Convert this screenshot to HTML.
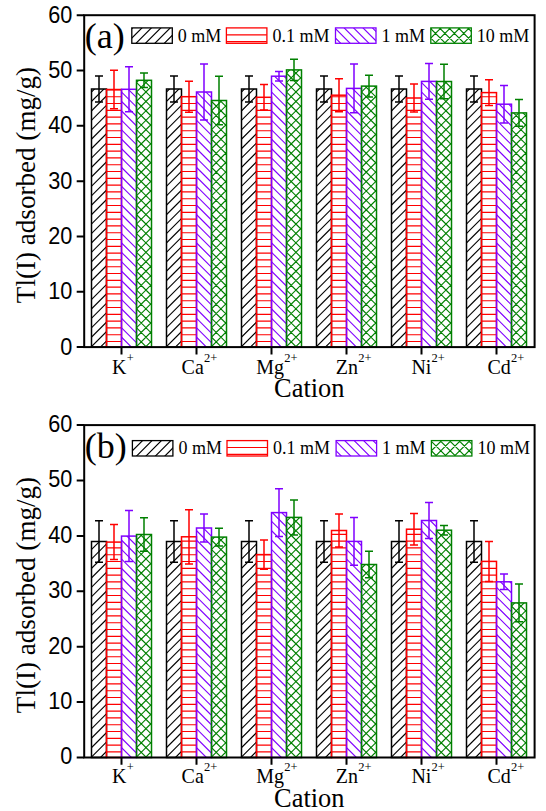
<!DOCTYPE html><html><head><meta charset="utf-8"><style>html,body{margin:0;padding:0;background:#fff;width:546px;height:811px;overflow:hidden}svg{display:block}text{font-family:"Liberation Sans",sans-serif;fill:#000}.s{font-family:"Liberation Serif",serif}</style></head><body>
<svg width="546" height="811" viewBox="0 0 546 811"><defs><clipPath id="c0"><rect x="91.50" y="89.00" width="15.00" height="258.10"/></clipPath><clipPath id="c1"><rect x="106.50" y="89.50" width="15.00" height="257.60"/></clipPath><clipPath id="c2"><rect x="121.50" y="89.30" width="15.00" height="257.80"/></clipPath><clipPath id="c3"><rect x="136.50" y="80.30" width="15.00" height="266.80"/></clipPath><clipPath id="c4"><rect x="166.50" y="89.00" width="15.00" height="258.10"/></clipPath><clipPath id="c5"><rect x="181.50" y="96.70" width="15.00" height="250.40"/></clipPath><clipPath id="c6"><rect x="196.50" y="92.00" width="15.00" height="255.10"/></clipPath><clipPath id="c7"><rect x="211.50" y="100.50" width="15.00" height="246.60"/></clipPath><clipPath id="c8"><rect x="241.50" y="89.00" width="15.00" height="258.10"/></clipPath><clipPath id="c9"><rect x="256.50" y="97.30" width="15.00" height="249.80"/></clipPath><clipPath id="c10"><rect x="271.50" y="76.20" width="15.00" height="270.90"/></clipPath><clipPath id="c11"><rect x="286.50" y="69.90" width="15.00" height="277.20"/></clipPath><clipPath id="c12"><rect x="316.50" y="89.00" width="15.00" height="258.10"/></clipPath><clipPath id="c13"><rect x="331.50" y="95.20" width="15.00" height="251.90"/></clipPath><clipPath id="c14"><rect x="346.50" y="88.40" width="15.00" height="258.70"/></clipPath><clipPath id="c15"><rect x="361.50" y="86.10" width="15.00" height="261.00"/></clipPath><clipPath id="c16"><rect x="391.50" y="89.00" width="15.00" height="258.10"/></clipPath><clipPath id="c17"><rect x="406.50" y="98.00" width="15.00" height="249.10"/></clipPath><clipPath id="c18"><rect x="421.50" y="81.40" width="15.00" height="265.70"/></clipPath><clipPath id="c19"><rect x="436.50" y="81.50" width="15.00" height="265.60"/></clipPath><clipPath id="c20"><rect x="466.50" y="89.00" width="15.00" height="258.10"/></clipPath><clipPath id="c21"><rect x="481.50" y="92.60" width="15.00" height="254.50"/></clipPath><clipPath id="c22"><rect x="496.50" y="104.20" width="15.00" height="242.90"/></clipPath><clipPath id="c23"><rect x="511.50" y="112.90" width="15.00" height="234.20"/></clipPath><clipPath id="c24"><rect x="131.80" y="27.90" width="40.50" height="15.40"/></clipPath><clipPath id="c25"><rect x="226.40" y="27.90" width="40.50" height="15.40"/></clipPath><clipPath id="c26"><rect x="335.50" y="27.90" width="40.50" height="15.40"/></clipPath><clipPath id="c27"><rect x="430.80" y="27.90" width="40.50" height="15.40"/></clipPath><clipPath id="c28"><rect x="91.50" y="541.50" width="15.00" height="216.00"/></clipPath><clipPath id="c29"><rect x="106.50" y="542.10" width="15.00" height="215.40"/></clipPath><clipPath id="c30"><rect x="121.50" y="536.10" width="15.00" height="221.40"/></clipPath><clipPath id="c31"><rect x="136.50" y="534.50" width="15.00" height="223.00"/></clipPath><clipPath id="c32"><rect x="166.50" y="541.50" width="15.00" height="216.00"/></clipPath><clipPath id="c33"><rect x="181.50" y="536.80" width="15.00" height="220.70"/></clipPath><clipPath id="c34"><rect x="196.50" y="528.00" width="15.00" height="229.50"/></clipPath><clipPath id="c35"><rect x="211.50" y="537.10" width="15.00" height="220.40"/></clipPath><clipPath id="c36"><rect x="241.50" y="541.50" width="15.00" height="216.00"/></clipPath><clipPath id="c37"><rect x="256.50" y="554.60" width="15.00" height="202.90"/></clipPath><clipPath id="c38"><rect x="271.50" y="512.60" width="15.00" height="244.90"/></clipPath><clipPath id="c39"><rect x="286.50" y="517.40" width="15.00" height="240.10"/></clipPath><clipPath id="c40"><rect x="316.50" y="541.50" width="15.00" height="216.00"/></clipPath><clipPath id="c41"><rect x="331.50" y="530.50" width="15.00" height="227.00"/></clipPath><clipPath id="c42"><rect x="346.50" y="541.40" width="15.00" height="216.10"/></clipPath><clipPath id="c43"><rect x="361.50" y="564.50" width="15.00" height="193.00"/></clipPath><clipPath id="c44"><rect x="391.50" y="541.50" width="15.00" height="216.00"/></clipPath><clipPath id="c45"><rect x="406.50" y="529.20" width="15.00" height="228.30"/></clipPath><clipPath id="c46"><rect x="421.50" y="520.50" width="15.00" height="237.00"/></clipPath><clipPath id="c47"><rect x="436.50" y="530.20" width="15.00" height="227.30"/></clipPath><clipPath id="c48"><rect x="466.50" y="541.50" width="15.00" height="216.00"/></clipPath><clipPath id="c49"><rect x="481.50" y="561.40" width="15.00" height="196.10"/></clipPath><clipPath id="c50"><rect x="496.50" y="581.80" width="15.00" height="175.70"/></clipPath><clipPath id="c51"><rect x="511.50" y="602.90" width="15.00" height="154.60"/></clipPath><clipPath id="c52"><rect x="132.40" y="440.60" width="40.50" height="15.40"/></clipPath><clipPath id="c53"><rect x="227.00" y="440.60" width="40.50" height="15.40"/></clipPath><clipPath id="c54"><rect x="336.10" y="440.60" width="40.50" height="15.40"/></clipPath><clipPath id="c55"><rect x="431.40" y="440.60" width="40.50" height="15.40"/></clipPath></defs>
<path clip-path="url(#c0)" d="M99.29 367.10L397.39 69.00M89.86 367.10L387.96 69.00M80.43 367.10L378.53 69.00M71.00 367.10L369.10 69.00M61.57 367.10L359.67 69.00M52.14 367.10L350.24 69.00M42.71 367.10L340.81 69.00M33.28 367.10L331.38 69.00M23.85 367.10L321.95 69.00M14.42 367.10L312.52 69.00M4.99 367.10L303.09 69.00M-4.44 367.10L293.66 69.00M-13.87 367.10L284.23 69.00M-23.30 367.10L274.80 69.00M-32.73 367.10L265.37 69.00M-42.16 367.10L255.94 69.00M-51.59 367.10L246.51 69.00M-61.02 367.10L237.08 69.00M-70.45 367.10L227.65 69.00M-79.88 367.10L218.22 69.00M-89.31 367.10L208.79 69.00M-98.74 367.10L199.36 69.00M-108.17 367.10L189.93 69.00M-117.60 367.10L180.50 69.00M-127.03 367.10L171.07 69.00M-136.46 367.10L161.64 69.00M-145.89 367.10L152.21 69.00M-155.32 367.10L142.78 69.00M-164.75 367.10L133.35 69.00M-174.18 367.10L123.92 69.00M-183.61 367.10L114.49 69.00M-193.04 367.10L105.06 69.00M-202.47 367.10L95.63 69.00" stroke="#000000" stroke-width="1.15" fill="none"/>
<rect x="91.50" y="89.00" width="15.00" height="258.10" fill="none" stroke="#000000" stroke-width="1.5"/>
<path d="M99.00 75.90V102.10M95.00 75.90H103.00M95.00 102.10H103.00" stroke="#000000" stroke-width="1.5" fill="none"/>
<path clip-path="url(#c1)" d="M106.50 341.50H121.50M106.50 334.70H121.50M106.50 327.90H121.50M106.50 321.10H121.50M106.50 314.30H121.50M106.50 307.50H121.50M106.50 300.70H121.50M106.50 293.90H121.50M106.50 287.10H121.50M106.50 280.30H121.50M106.50 273.50H121.50M106.50 266.70H121.50M106.50 259.90H121.50M106.50 253.10H121.50M106.50 246.30H121.50M106.50 239.50H121.50M106.50 232.70H121.50M106.50 225.90H121.50M106.50 219.10H121.50M106.50 212.30H121.50M106.50 205.50H121.50M106.50 198.70H121.50M106.50 191.90H121.50M106.50 185.10H121.50M106.50 178.30H121.50M106.50 171.50H121.50M106.50 164.70H121.50M106.50 157.90H121.50M106.50 151.10H121.50M106.50 144.30H121.50M106.50 137.50H121.50M106.50 130.70H121.50M106.50 123.90H121.50M106.50 117.10H121.50M106.50 110.30H121.50M106.50 103.50H121.50M106.50 96.70H121.50M106.50 89.90H121.50" stroke="#ff0000" stroke-width="1.15" fill="none"/>
<rect x="106.50" y="89.50" width="15.00" height="257.60" fill="none" stroke="#ff0000" stroke-width="1.5"/>
<path d="M114.00 70.30V108.70M110.00 70.30H118.00M110.00 108.70H118.00" stroke="#ff0000" stroke-width="1.5" fill="none"/>
<path clip-path="url(#c2)" d="M434.33 367.10L136.53 69.30M424.90 367.10L127.10 69.30M415.47 367.10L117.67 69.30M406.04 367.10L108.24 69.30M396.61 367.10L98.81 69.30M387.18 367.10L89.38 69.30M377.75 367.10L79.95 69.30M368.32 367.10L70.52 69.30M358.89 367.10L61.09 69.30M349.46 367.10L51.66 69.30M340.03 367.10L42.23 69.30M330.60 367.10L32.80 69.30M321.17 367.10L23.37 69.30M311.74 367.10L13.94 69.30M302.31 367.10L4.51 69.30M292.88 367.10L-4.92 69.30M283.45 367.10L-14.35 69.30M274.02 367.10L-23.78 69.30M264.59 367.10L-33.21 69.30M255.16 367.10L-42.64 69.30M245.73 367.10L-52.07 69.30M236.30 367.10L-61.50 69.30M226.87 367.10L-70.93 69.30M217.44 367.10L-80.36 69.30M208.01 367.10L-89.79 69.30M198.58 367.10L-99.22 69.30M189.15 367.10L-108.65 69.30M179.72 367.10L-118.08 69.30M170.29 367.10L-127.51 69.30M160.86 367.10L-136.94 69.30M151.43 367.10L-146.37 69.30M142.00 367.10L-155.80 69.30M132.57 367.10L-165.23 69.30M123.14 367.10L-174.66 69.30" stroke="#8000ff" stroke-width="1.15" fill="none"/>
<rect x="121.50" y="89.30" width="15.00" height="257.80" fill="none" stroke="#8000ff" stroke-width="1.5"/>
<path d="M129.00 66.80V111.80M125.00 66.80H133.00M125.00 111.80H133.00" stroke="#8000ff" stroke-width="1.5" fill="none"/>
<path clip-path="url(#c3)" d="M144.29 367.10L451.09 60.30M134.86 367.10L441.66 60.30M125.43 367.10L432.23 60.30M116.00 367.10L422.80 60.30M106.57 367.10L413.37 60.30M97.14 367.10L403.94 60.30M87.71 367.10L394.51 60.30M78.28 367.10L385.08 60.30M68.85 367.10L375.65 60.30M59.42 367.10L366.22 60.30M49.99 367.10L356.79 60.30M40.56 367.10L347.36 60.30M31.13 367.10L337.93 60.30M21.70 367.10L328.50 60.30M12.27 367.10L319.07 60.30M2.84 367.10L309.64 60.30M-6.59 367.10L300.21 60.30M-16.02 367.10L290.78 60.30M-25.45 367.10L281.35 60.30M-34.88 367.10L271.92 60.30M-44.31 367.10L262.49 60.30M-53.74 367.10L253.06 60.30M-63.17 367.10L243.63 60.30M-72.60 367.10L234.20 60.30M-82.03 367.10L224.77 60.30M-91.46 367.10L215.34 60.30M-100.89 367.10L205.91 60.30M-110.32 367.10L196.48 60.30M-119.75 367.10L187.05 60.30M-129.18 367.10L177.62 60.30M-138.61 367.10L168.19 60.30M-148.04 367.10L158.76 60.30M-157.47 367.10L149.33 60.30M-166.90 367.10L139.90 60.30M458.76 367.10L151.96 60.30M449.33 367.10L142.53 60.30M439.90 367.10L133.10 60.30M430.47 367.10L123.67 60.30M421.04 367.10L114.24 60.30M411.61 367.10L104.81 60.30M402.18 367.10L95.38 60.30M392.75 367.10L85.95 60.30M383.32 367.10L76.52 60.30M373.89 367.10L67.09 60.30M364.46 367.10L57.66 60.30M355.03 367.10L48.23 60.30M345.60 367.10L38.80 60.30M336.17 367.10L29.37 60.30M326.74 367.10L19.94 60.30M317.31 367.10L10.51 60.30M307.88 367.10L1.08 60.30M298.45 367.10L-8.35 60.30M289.02 367.10L-17.78 60.30M279.59 367.10L-27.21 60.30M270.16 367.10L-36.64 60.30M260.73 367.10L-46.07 60.30M251.30 367.10L-55.50 60.30M241.87 367.10L-64.93 60.30M232.44 367.10L-74.36 60.30M223.01 367.10L-83.79 60.30M213.58 367.10L-93.22 60.30M204.15 367.10L-102.65 60.30M194.72 367.10L-112.08 60.30M185.29 367.10L-121.51 60.30M175.86 367.10L-130.94 60.30M166.43 367.10L-140.37 60.30M157.00 367.10L-149.80 60.30M147.57 367.10L-159.23 60.30M138.14 367.10L-168.66 60.30" stroke="#008000" stroke-width="1.15" fill="none"/>
<rect x="136.50" y="80.30" width="15.00" height="266.80" fill="none" stroke="#008000" stroke-width="1.5"/>
<path d="M144.00 73.10V87.50M140.00 73.10H148.00M140.00 87.50H148.00" stroke="#008000" stroke-width="1.5" fill="none"/>
<path clip-path="url(#c4)" d="M174.29 367.10L472.39 69.00M164.86 367.10L462.96 69.00M155.43 367.10L453.53 69.00M146.00 367.10L444.10 69.00M136.57 367.10L434.67 69.00M127.14 367.10L425.24 69.00M117.71 367.10L415.81 69.00M108.28 367.10L406.38 69.00M98.85 367.10L396.95 69.00M89.42 367.10L387.52 69.00M79.99 367.10L378.09 69.00M70.56 367.10L368.66 69.00M61.13 367.10L359.23 69.00M51.70 367.10L349.80 69.00M42.27 367.10L340.37 69.00M32.84 367.10L330.94 69.00M23.41 367.10L321.51 69.00M13.98 367.10L312.08 69.00M4.55 367.10L302.65 69.00M-4.88 367.10L293.22 69.00M-14.31 367.10L283.79 69.00M-23.74 367.10L274.36 69.00M-33.17 367.10L264.93 69.00M-42.60 367.10L255.50 69.00M-52.03 367.10L246.07 69.00M-61.46 367.10L236.64 69.00M-70.89 367.10L227.21 69.00M-80.32 367.10L217.78 69.00M-89.75 367.10L208.35 69.00M-99.18 367.10L198.92 69.00M-108.61 367.10L189.49 69.00M-118.04 367.10L180.06 69.00M-127.47 367.10L170.63 69.00" stroke="#000000" stroke-width="1.15" fill="none"/>
<rect x="166.50" y="89.00" width="15.00" height="258.10" fill="none" stroke="#000000" stroke-width="1.5"/>
<path d="M174.00 75.90V102.10M170.00 75.90H178.00M170.00 102.10H178.00" stroke="#000000" stroke-width="1.5" fill="none"/>
<path clip-path="url(#c5)" d="M181.50 341.50H196.50M181.50 334.70H196.50M181.50 327.90H196.50M181.50 321.10H196.50M181.50 314.30H196.50M181.50 307.50H196.50M181.50 300.70H196.50M181.50 293.90H196.50M181.50 287.10H196.50M181.50 280.30H196.50M181.50 273.50H196.50M181.50 266.70H196.50M181.50 259.90H196.50M181.50 253.10H196.50M181.50 246.30H196.50M181.50 239.50H196.50M181.50 232.70H196.50M181.50 225.90H196.50M181.50 219.10H196.50M181.50 212.30H196.50M181.50 205.50H196.50M181.50 198.70H196.50M181.50 191.90H196.50M181.50 185.10H196.50M181.50 178.30H196.50M181.50 171.50H196.50M181.50 164.70H196.50M181.50 157.90H196.50M181.50 151.10H196.50M181.50 144.30H196.50M181.50 137.50H196.50M181.50 130.70H196.50M181.50 123.90H196.50M181.50 117.10H196.50M181.50 110.30H196.50M181.50 103.50H196.50" stroke="#ff0000" stroke-width="1.15" fill="none"/>
<rect x="181.50" y="96.70" width="15.00" height="250.40" fill="none" stroke="#ff0000" stroke-width="1.5"/>
<path d="M189.00 81.20V112.20M185.00 81.20H193.00M185.00 112.20H193.00" stroke="#ff0000" stroke-width="1.5" fill="none"/>
<path clip-path="url(#c6)" d="M499.90 367.10L204.80 72.00M490.47 367.10L195.37 72.00M481.04 367.10L185.94 72.00M471.61 367.10L176.51 72.00M462.18 367.10L167.08 72.00M452.75 367.10L157.65 72.00M443.32 367.10L148.22 72.00M433.89 367.10L138.79 72.00M424.46 367.10L129.36 72.00M415.03 367.10L119.93 72.00M405.60 367.10L110.50 72.00M396.17 367.10L101.07 72.00M386.74 367.10L91.64 72.00M377.31 367.10L82.21 72.00M367.88 367.10L72.78 72.00M358.45 367.10L63.35 72.00M349.02 367.10L53.92 72.00M339.59 367.10L44.49 72.00M330.16 367.10L35.06 72.00M320.73 367.10L25.63 72.00M311.30 367.10L16.20 72.00M301.87 367.10L6.77 72.00M292.44 367.10L-2.66 72.00M283.01 367.10L-12.09 72.00M273.58 367.10L-21.52 72.00M264.15 367.10L-30.95 72.00M254.72 367.10L-40.38 72.00M245.29 367.10L-49.81 72.00M235.86 367.10L-59.24 72.00M226.43 367.10L-68.67 72.00M217.00 367.10L-78.10 72.00M207.57 367.10L-87.53 72.00M198.14 367.10L-96.96 72.00" stroke="#8000ff" stroke-width="1.15" fill="none"/>
<rect x="196.50" y="92.00" width="15.00" height="255.10" fill="none" stroke="#8000ff" stroke-width="1.5"/>
<path d="M204.00 64.00V120.00M200.00 64.00H208.00M200.00 120.00H208.00" stroke="#8000ff" stroke-width="1.5" fill="none"/>
<path clip-path="url(#c7)" d="M219.29 367.10L505.89 80.50M209.86 367.10L496.46 80.50M200.43 367.10L487.03 80.50M191.00 367.10L477.60 80.50M181.57 367.10L468.17 80.50M172.14 367.10L458.74 80.50M162.71 367.10L449.31 80.50M153.28 367.10L439.88 80.50M143.85 367.10L430.45 80.50M134.42 367.10L421.02 80.50M124.99 367.10L411.59 80.50M115.56 367.10L402.16 80.50M106.13 367.10L392.73 80.50M96.70 367.10L383.30 80.50M87.27 367.10L373.87 80.50M77.84 367.10L364.44 80.50M68.41 367.10L355.01 80.50M58.98 367.10L345.58 80.50M49.55 367.10L336.15 80.50M40.12 367.10L326.72 80.50M30.69 367.10L317.29 80.50M21.26 367.10L307.86 80.50M11.83 367.10L298.43 80.50M2.40 367.10L289.00 80.50M-7.03 367.10L279.57 80.50M-16.46 367.10L270.14 80.50M-25.89 367.10L260.71 80.50M-35.32 367.10L251.28 80.50M-44.75 367.10L241.85 80.50M-54.18 367.10L232.42 80.50M-63.61 367.10L222.99 80.50M-73.04 367.10L213.56 80.50M505.47 367.10L218.87 80.50M496.04 367.10L209.44 80.50M486.61 367.10L200.01 80.50M477.18 367.10L190.58 80.50M467.75 367.10L181.15 80.50M458.32 367.10L171.72 80.50M448.89 367.10L162.29 80.50M439.46 367.10L152.86 80.50M430.03 367.10L143.43 80.50M420.60 367.10L134.00 80.50M411.17 367.10L124.57 80.50M401.74 367.10L115.14 80.50M392.31 367.10L105.71 80.50M382.88 367.10L96.28 80.50M373.45 367.10L86.85 80.50M364.02 367.10L77.42 80.50M354.59 367.10L67.99 80.50M345.16 367.10L58.56 80.50M335.73 367.10L49.13 80.50M326.30 367.10L39.70 80.50M316.87 367.10L30.27 80.50M307.44 367.10L20.84 80.50M298.01 367.10L11.41 80.50M288.58 367.10L1.98 80.50M279.15 367.10L-7.45 80.50M269.72 367.10L-16.88 80.50M260.29 367.10L-26.31 80.50M250.86 367.10L-35.74 80.50M241.43 367.10L-45.17 80.50M232.00 367.10L-54.60 80.50M222.57 367.10L-64.03 80.50M213.14 367.10L-73.46 80.50" stroke="#008000" stroke-width="1.15" fill="none"/>
<rect x="211.50" y="100.50" width="15.00" height="246.60" fill="none" stroke="#008000" stroke-width="1.5"/>
<path d="M219.00 76.20V124.80M215.00 76.20H223.00M215.00 124.80H223.00" stroke="#008000" stroke-width="1.5" fill="none"/>
<path clip-path="url(#c8)" d="M249.29 367.10L547.39 69.00M239.86 367.10L537.96 69.00M230.43 367.10L528.53 69.00M221.00 367.10L519.10 69.00M211.57 367.10L509.67 69.00M202.14 367.10L500.24 69.00M192.71 367.10L490.81 69.00M183.28 367.10L481.38 69.00M173.85 367.10L471.95 69.00M164.42 367.10L462.52 69.00M154.99 367.10L453.09 69.00M145.56 367.10L443.66 69.00M136.13 367.10L434.23 69.00M126.70 367.10L424.80 69.00M117.27 367.10L415.37 69.00M107.84 367.10L405.94 69.00M98.41 367.10L396.51 69.00M88.98 367.10L387.08 69.00M79.55 367.10L377.65 69.00M70.12 367.10L368.22 69.00M60.69 367.10L358.79 69.00M51.26 367.10L349.36 69.00M41.83 367.10L339.93 69.00M32.40 367.10L330.50 69.00M22.97 367.10L321.07 69.00M13.54 367.10L311.64 69.00M4.11 367.10L302.21 69.00M-5.32 367.10L292.78 69.00M-14.75 367.10L283.35 69.00M-24.18 367.10L273.92 69.00M-33.61 367.10L264.49 69.00M-43.04 367.10L255.06 69.00M-52.47 367.10L245.63 69.00" stroke="#000000" stroke-width="1.15" fill="none"/>
<rect x="241.50" y="89.00" width="15.00" height="258.10" fill="none" stroke="#000000" stroke-width="1.5"/>
<path d="M249.00 75.90V102.10M245.00 75.90H253.00M245.00 102.10H253.00" stroke="#000000" stroke-width="1.5" fill="none"/>
<path clip-path="url(#c9)" d="M256.50 341.50H271.50M256.50 334.70H271.50M256.50 327.90H271.50M256.50 321.10H271.50M256.50 314.30H271.50M256.50 307.50H271.50M256.50 300.70H271.50M256.50 293.90H271.50M256.50 287.10H271.50M256.50 280.30H271.50M256.50 273.50H271.50M256.50 266.70H271.50M256.50 259.90H271.50M256.50 253.10H271.50M256.50 246.30H271.50M256.50 239.50H271.50M256.50 232.70H271.50M256.50 225.90H271.50M256.50 219.10H271.50M256.50 212.30H271.50M256.50 205.50H271.50M256.50 198.70H271.50M256.50 191.90H271.50M256.50 185.10H271.50M256.50 178.30H271.50M256.50 171.50H271.50M256.50 164.70H271.50M256.50 157.90H271.50M256.50 151.10H271.50M256.50 144.30H271.50M256.50 137.50H271.50M256.50 130.70H271.50M256.50 123.90H271.50M256.50 117.10H271.50M256.50 110.30H271.50M256.50 103.50H271.50" stroke="#ff0000" stroke-width="1.15" fill="none"/>
<rect x="256.50" y="97.30" width="15.00" height="249.80" fill="none" stroke="#ff0000" stroke-width="1.5"/>
<path d="M264.00 84.60V110.00M260.00 84.60H268.00M260.00 110.00H268.00" stroke="#ff0000" stroke-width="1.5" fill="none"/>
<path clip-path="url(#c10)" d="M593.76 367.10L282.86 56.20M584.33 367.10L273.43 56.20M574.90 367.10L264.00 56.20M565.47 367.10L254.57 56.20M556.04 367.10L245.14 56.20M546.61 367.10L235.71 56.20M537.18 367.10L226.28 56.20M527.75 367.10L216.85 56.20M518.32 367.10L207.42 56.20M508.89 367.10L197.99 56.20M499.46 367.10L188.56 56.20M490.03 367.10L179.13 56.20M480.60 367.10L169.70 56.20M471.17 367.10L160.27 56.20M461.74 367.10L150.84 56.20M452.31 367.10L141.41 56.20M442.88 367.10L131.98 56.20M433.45 367.10L122.55 56.20M424.02 367.10L113.12 56.20M414.59 367.10L103.69 56.20M405.16 367.10L94.26 56.20M395.73 367.10L84.83 56.20M386.30 367.10L75.40 56.20M376.87 367.10L65.97 56.20M367.44 367.10L56.54 56.20M358.01 367.10L47.11 56.20M348.58 367.10L37.68 56.20M339.15 367.10L28.25 56.20M329.72 367.10L18.82 56.20M320.29 367.10L9.39 56.20M310.86 367.10L-0.04 56.20M301.43 367.10L-9.47 56.20M292.00 367.10L-18.90 56.20M282.57 367.10L-28.33 56.20M273.14 367.10L-37.76 56.20" stroke="#8000ff" stroke-width="1.15" fill="none"/>
<rect x="271.50" y="76.20" width="15.00" height="270.90" fill="none" stroke="#8000ff" stroke-width="1.5"/>
<path d="M279.00 71.40V81.00M275.00 71.40H283.00M275.00 81.00H283.00" stroke="#8000ff" stroke-width="1.5" fill="none"/>
<path clip-path="url(#c11)" d="M294.29 367.10L611.49 49.90M284.86 367.10L602.06 49.90M275.43 367.10L592.63 49.90M266.00 367.10L583.20 49.90M256.57 367.10L573.77 49.90M247.14 367.10L564.34 49.90M237.71 367.10L554.91 49.90M228.28 367.10L545.48 49.90M218.85 367.10L536.05 49.90M209.42 367.10L526.62 49.90M199.99 367.10L517.19 49.90M190.56 367.10L507.76 49.90M181.13 367.10L498.33 49.90M171.70 367.10L488.90 49.90M162.27 367.10L479.47 49.90M152.84 367.10L470.04 49.90M143.41 367.10L460.61 49.90M133.98 367.10L451.18 49.90M124.55 367.10L441.75 49.90M115.12 367.10L432.32 49.90M105.69 367.10L422.89 49.90M96.26 367.10L413.46 49.90M86.83 367.10L404.03 49.90M77.40 367.10L394.60 49.90M67.97 367.10L385.17 49.90M58.54 367.10L375.74 49.90M49.11 367.10L366.31 49.90M39.68 367.10L356.88 49.90M30.25 367.10L347.45 49.90M20.82 367.10L338.02 49.90M11.39 367.10L328.59 49.90M1.96 367.10L319.16 49.90M-7.47 367.10L309.73 49.90M-16.90 367.10L300.30 49.90M-26.33 367.10L290.87 49.90M618.19 367.10L300.99 49.90M608.76 367.10L291.56 49.90M599.33 367.10L282.13 49.90M589.90 367.10L272.70 49.90M580.47 367.10L263.27 49.90M571.04 367.10L253.84 49.90M561.61 367.10L244.41 49.90M552.18 367.10L234.98 49.90M542.75 367.10L225.55 49.90M533.32 367.10L216.12 49.90M523.89 367.10L206.69 49.90M514.46 367.10L197.26 49.90M505.03 367.10L187.83 49.90M495.60 367.10L178.40 49.90M486.17 367.10L168.97 49.90M476.74 367.10L159.54 49.90M467.31 367.10L150.11 49.90M457.88 367.10L140.68 49.90M448.45 367.10L131.25 49.90M439.02 367.10L121.82 49.90M429.59 367.10L112.39 49.90M420.16 367.10L102.96 49.90M410.73 367.10L93.53 49.90M401.30 367.10L84.10 49.90M391.87 367.10L74.67 49.90M382.44 367.10L65.24 49.90M373.01 367.10L55.81 49.90M363.58 367.10L46.38 49.90M354.15 367.10L36.95 49.90M344.72 367.10L27.52 49.90M335.29 367.10L18.09 49.90M325.86 367.10L8.66 49.90M316.43 367.10L-0.77 49.90M307.00 367.10L-10.20 49.90M297.57 367.10L-19.63 49.90M288.14 367.10L-29.06 49.90" stroke="#008000" stroke-width="1.15" fill="none"/>
<rect x="286.50" y="69.90" width="15.00" height="277.20" fill="none" stroke="#008000" stroke-width="1.5"/>
<path d="M294.00 59.30V80.50M290.00 59.30H298.00M290.00 80.50H298.00" stroke="#008000" stroke-width="1.5" fill="none"/>
<path clip-path="url(#c12)" d="M324.29 367.10L622.39 69.00M314.86 367.10L612.96 69.00M305.43 367.10L603.53 69.00M296.00 367.10L594.10 69.00M286.57 367.10L584.67 69.00M277.14 367.10L575.24 69.00M267.71 367.10L565.81 69.00M258.28 367.10L556.38 69.00M248.85 367.10L546.95 69.00M239.42 367.10L537.52 69.00M229.99 367.10L528.09 69.00M220.56 367.10L518.66 69.00M211.13 367.10L509.23 69.00M201.70 367.10L499.80 69.00M192.27 367.10L490.37 69.00M182.84 367.10L480.94 69.00M173.41 367.10L471.51 69.00M163.98 367.10L462.08 69.00M154.55 367.10L452.65 69.00M145.12 367.10L443.22 69.00M135.69 367.10L433.79 69.00M126.26 367.10L424.36 69.00M116.83 367.10L414.93 69.00M107.40 367.10L405.50 69.00M97.97 367.10L396.07 69.00M88.54 367.10L386.64 69.00M79.11 367.10L377.21 69.00M69.68 367.10L367.78 69.00M60.25 367.10L358.35 69.00M50.82 367.10L348.92 69.00M41.39 367.10L339.49 69.00M31.96 367.10L330.06 69.00M22.53 367.10L320.63 69.00" stroke="#000000" stroke-width="1.15" fill="none"/>
<rect x="316.50" y="89.00" width="15.00" height="258.10" fill="none" stroke="#000000" stroke-width="1.5"/>
<path d="M324.00 75.90V102.10M320.00 75.90H328.00M320.00 102.10H328.00" stroke="#000000" stroke-width="1.5" fill="none"/>
<path clip-path="url(#c13)" d="M331.50 341.50H346.50M331.50 334.70H346.50M331.50 327.90H346.50M331.50 321.10H346.50M331.50 314.30H346.50M331.50 307.50H346.50M331.50 300.70H346.50M331.50 293.90H346.50M331.50 287.10H346.50M331.50 280.30H346.50M331.50 273.50H346.50M331.50 266.70H346.50M331.50 259.90H346.50M331.50 253.10H346.50M331.50 246.30H346.50M331.50 239.50H346.50M331.50 232.70H346.50M331.50 225.90H346.50M331.50 219.10H346.50M331.50 212.30H346.50M331.50 205.50H346.50M331.50 198.70H346.50M331.50 191.90H346.50M331.50 185.10H346.50M331.50 178.30H346.50M331.50 171.50H346.50M331.50 164.70H346.50M331.50 157.90H346.50M331.50 151.10H346.50M331.50 144.30H346.50M331.50 137.50H346.50M331.50 130.70H346.50M331.50 123.90H346.50M331.50 117.10H346.50M331.50 110.30H346.50M331.50 103.50H346.50M331.50 96.70H346.50" stroke="#ff0000" stroke-width="1.15" fill="none"/>
<rect x="331.50" y="95.20" width="15.00" height="251.90" fill="none" stroke="#ff0000" stroke-width="1.5"/>
<path d="M339.00 78.70V111.70M335.00 78.70H343.00M335.00 111.70H343.00" stroke="#ff0000" stroke-width="1.5" fill="none"/>
<path clip-path="url(#c14)" d="M659.33 367.10L360.63 68.40M649.90 367.10L351.20 68.40M640.47 367.10L341.77 68.40M631.04 367.10L332.34 68.40M621.61 367.10L322.91 68.40M612.18 367.10L313.48 68.40M602.75 367.10L304.05 68.40M593.32 367.10L294.62 68.40M583.89 367.10L285.19 68.40M574.46 367.10L275.76 68.40M565.03 367.10L266.33 68.40M555.60 367.10L256.90 68.40M546.17 367.10L247.47 68.40M536.74 367.10L238.04 68.40M527.31 367.10L228.61 68.40M517.88 367.10L219.18 68.40M508.45 367.10L209.75 68.40M499.02 367.10L200.32 68.40M489.59 367.10L190.89 68.40M480.16 367.10L181.46 68.40M470.73 367.10L172.03 68.40M461.30 367.10L162.60 68.40M451.87 367.10L153.17 68.40M442.44 367.10L143.74 68.40M433.01 367.10L134.31 68.40M423.58 367.10L124.88 68.40M414.15 367.10L115.45 68.40M404.72 367.10L106.02 68.40M395.29 367.10L96.59 68.40M385.86 367.10L87.16 68.40M376.43 367.10L77.73 68.40M367.00 367.10L68.30 68.40M357.57 367.10L58.87 68.40M348.14 367.10L49.44 68.40" stroke="#8000ff" stroke-width="1.15" fill="none"/>
<rect x="346.50" y="88.40" width="15.00" height="258.70" fill="none" stroke="#8000ff" stroke-width="1.5"/>
<path d="M354.00 64.00V112.80M350.00 64.00H358.00M350.00 112.80H358.00" stroke="#8000ff" stroke-width="1.5" fill="none"/>
<path clip-path="url(#c15)" d="M369.29 367.10L670.29 66.10M359.86 367.10L660.86 66.10M350.43 367.10L651.43 66.10M341.00 367.10L642.00 66.10M331.57 367.10L632.57 66.10M322.14 367.10L623.14 66.10M312.71 367.10L613.71 66.10M303.28 367.10L604.28 66.10M293.85 367.10L594.85 66.10M284.42 367.10L585.42 66.10M274.99 367.10L575.99 66.10M265.56 367.10L566.56 66.10M256.13 367.10L557.13 66.10M246.70 367.10L547.70 66.10M237.27 367.10L538.27 66.10M227.84 367.10L528.84 66.10M218.41 367.10L519.41 66.10M208.98 367.10L509.98 66.10M199.55 367.10L500.55 66.10M190.12 367.10L491.12 66.10M180.69 367.10L481.69 66.10M171.26 367.10L472.26 66.10M161.83 367.10L462.83 66.10M152.40 367.10L453.40 66.10M142.97 367.10L443.97 66.10M133.54 367.10L434.54 66.10M124.11 367.10L425.11 66.10M114.68 367.10L415.68 66.10M105.25 367.10L406.25 66.10M95.82 367.10L396.82 66.10M86.39 367.10L387.39 66.10M76.96 367.10L377.96 66.10M67.53 367.10L368.53 66.10M674.33 367.10L373.33 66.10M664.90 367.10L363.90 66.10M655.47 367.10L354.47 66.10M646.04 367.10L345.04 66.10M636.61 367.10L335.61 66.10M627.18 367.10L326.18 66.10M617.75 367.10L316.75 66.10M608.32 367.10L307.32 66.10M598.89 367.10L297.89 66.10M589.46 367.10L288.46 66.10M580.03 367.10L279.03 66.10M570.60 367.10L269.60 66.10M561.17 367.10L260.17 66.10M551.74 367.10L250.74 66.10M542.31 367.10L241.31 66.10M532.88 367.10L231.88 66.10M523.45 367.10L222.45 66.10M514.02 367.10L213.02 66.10M504.59 367.10L203.59 66.10M495.16 367.10L194.16 66.10M485.73 367.10L184.73 66.10M476.30 367.10L175.30 66.10M466.87 367.10L165.87 66.10M457.44 367.10L156.44 66.10M448.01 367.10L147.01 66.10M438.58 367.10L137.58 66.10M429.15 367.10L128.15 66.10M419.72 367.10L118.72 66.10M410.29 367.10L109.29 66.10M400.86 367.10L99.86 66.10M391.43 367.10L90.43 66.10M382.00 367.10L81.00 66.10M372.57 367.10L71.57 66.10M363.14 367.10L62.14 66.10" stroke="#008000" stroke-width="1.15" fill="none"/>
<rect x="361.50" y="86.10" width="15.00" height="261.00" fill="none" stroke="#008000" stroke-width="1.5"/>
<path d="M369.00 75.30V96.90M365.00 75.30H373.00M365.00 96.90H373.00" stroke="#008000" stroke-width="1.5" fill="none"/>
<path clip-path="url(#c16)" d="M399.29 367.10L697.39 69.00M389.86 367.10L687.96 69.00M380.43 367.10L678.53 69.00M371.00 367.10L669.10 69.00M361.57 367.10L659.67 69.00M352.14 367.10L650.24 69.00M342.71 367.10L640.81 69.00M333.28 367.10L631.38 69.00M323.85 367.10L621.95 69.00M314.42 367.10L612.52 69.00M304.99 367.10L603.09 69.00M295.56 367.10L593.66 69.00M286.13 367.10L584.23 69.00M276.70 367.10L574.80 69.00M267.27 367.10L565.37 69.00M257.84 367.10L555.94 69.00M248.41 367.10L546.51 69.00M238.98 367.10L537.08 69.00M229.55 367.10L527.65 69.00M220.12 367.10L518.22 69.00M210.69 367.10L508.79 69.00M201.26 367.10L499.36 69.00M191.83 367.10L489.93 69.00M182.40 367.10L480.50 69.00M172.97 367.10L471.07 69.00M163.54 367.10L461.64 69.00M154.11 367.10L452.21 69.00M144.68 367.10L442.78 69.00M135.25 367.10L433.35 69.00M125.82 367.10L423.92 69.00M116.39 367.10L414.49 69.00M106.96 367.10L405.06 69.00M97.53 367.10L395.63 69.00" stroke="#000000" stroke-width="1.15" fill="none"/>
<rect x="391.50" y="89.00" width="15.00" height="258.10" fill="none" stroke="#000000" stroke-width="1.5"/>
<path d="M399.00 75.90V102.10M395.00 75.90H403.00M395.00 102.10H403.00" stroke="#000000" stroke-width="1.5" fill="none"/>
<path clip-path="url(#c17)" d="M406.50 341.50H421.50M406.50 334.70H421.50M406.50 327.90H421.50M406.50 321.10H421.50M406.50 314.30H421.50M406.50 307.50H421.50M406.50 300.70H421.50M406.50 293.90H421.50M406.50 287.10H421.50M406.50 280.30H421.50M406.50 273.50H421.50M406.50 266.70H421.50M406.50 259.90H421.50M406.50 253.10H421.50M406.50 246.30H421.50M406.50 239.50H421.50M406.50 232.70H421.50M406.50 225.90H421.50M406.50 219.10H421.50M406.50 212.30H421.50M406.50 205.50H421.50M406.50 198.70H421.50M406.50 191.90H421.50M406.50 185.10H421.50M406.50 178.30H421.50M406.50 171.50H421.50M406.50 164.70H421.50M406.50 157.90H421.50M406.50 151.10H421.50M406.50 144.30H421.50M406.50 137.50H421.50M406.50 130.70H421.50M406.50 123.90H421.50M406.50 117.10H421.50M406.50 110.30H421.50M406.50 103.50H421.50" stroke="#ff0000" stroke-width="1.15" fill="none"/>
<rect x="406.50" y="98.00" width="15.00" height="249.10" fill="none" stroke="#ff0000" stroke-width="1.5"/>
<path d="M414.00 83.90V112.10M410.00 83.90H418.00M410.00 112.10H418.00" stroke="#ff0000" stroke-width="1.5" fill="none"/>
<path clip-path="url(#c18)" d="M734.33 367.10L428.63 61.40M724.90 367.10L419.20 61.40M715.47 367.10L409.77 61.40M706.04 367.10L400.34 61.40M696.61 367.10L390.91 61.40M687.18 367.10L381.48 61.40M677.75 367.10L372.05 61.40M668.32 367.10L362.62 61.40M658.89 367.10L353.19 61.40M649.46 367.10L343.76 61.40M640.03 367.10L334.33 61.40M630.60 367.10L324.90 61.40M621.17 367.10L315.47 61.40M611.74 367.10L306.04 61.40M602.31 367.10L296.61 61.40M592.88 367.10L287.18 61.40M583.45 367.10L277.75 61.40M574.02 367.10L268.32 61.40M564.59 367.10L258.89 61.40M555.16 367.10L249.46 61.40M545.73 367.10L240.03 61.40M536.30 367.10L230.60 61.40M526.87 367.10L221.17 61.40M517.44 367.10L211.74 61.40M508.01 367.10L202.31 61.40M498.58 367.10L192.88 61.40M489.15 367.10L183.45 61.40M479.72 367.10L174.02 61.40M470.29 367.10L164.59 61.40M460.86 367.10L155.16 61.40M451.43 367.10L145.73 61.40M442.00 367.10L136.30 61.40M432.57 367.10L126.87 61.40M423.14 367.10L117.44 61.40" stroke="#8000ff" stroke-width="1.15" fill="none"/>
<rect x="421.50" y="81.40" width="15.00" height="265.70" fill="none" stroke="#8000ff" stroke-width="1.5"/>
<path d="M429.00 63.50V99.30M425.00 63.50H433.00M425.00 99.30H433.00" stroke="#8000ff" stroke-width="1.5" fill="none"/>
<path clip-path="url(#c19)" d="M444.29 367.10L749.89 61.50M434.86 367.10L740.46 61.50M425.43 367.10L731.03 61.50M416.00 367.10L721.60 61.50M406.57 367.10L712.17 61.50M397.14 367.10L702.74 61.50M387.71 367.10L693.31 61.50M378.28 367.10L683.88 61.50M368.85 367.10L674.45 61.50M359.42 367.10L665.02 61.50M349.99 367.10L655.59 61.50M340.56 367.10L646.16 61.50M331.13 367.10L636.73 61.50M321.70 367.10L627.30 61.50M312.27 367.10L617.87 61.50M302.84 367.10L608.44 61.50M293.41 367.10L599.01 61.50M283.98 367.10L589.58 61.50M274.55 367.10L580.15 61.50M265.12 367.10L570.72 61.50M255.69 367.10L561.29 61.50M246.26 367.10L551.86 61.50M236.83 367.10L542.43 61.50M227.40 367.10L533.00 61.50M217.97 367.10L523.57 61.50M208.54 367.10L514.14 61.50M199.11 367.10L504.71 61.50M189.68 367.10L495.28 61.50M180.25 367.10L485.85 61.50M170.82 367.10L476.42 61.50M161.39 367.10L466.99 61.50M151.96 367.10L457.56 61.50M142.53 367.10L448.13 61.50M133.10 367.10L438.70 61.50M749.33 367.10L443.73 61.50M739.90 367.10L434.30 61.50M730.47 367.10L424.87 61.50M721.04 367.10L415.44 61.50M711.61 367.10L406.01 61.50M702.18 367.10L396.58 61.50M692.75 367.10L387.15 61.50M683.32 367.10L377.72 61.50M673.89 367.10L368.29 61.50M664.46 367.10L358.86 61.50M655.03 367.10L349.43 61.50M645.60 367.10L340.00 61.50M636.17 367.10L330.57 61.50M626.74 367.10L321.14 61.50M617.31 367.10L311.71 61.50M607.88 367.10L302.28 61.50M598.45 367.10L292.85 61.50M589.02 367.10L283.42 61.50M579.59 367.10L273.99 61.50M570.16 367.10L264.56 61.50M560.73 367.10L255.13 61.50M551.30 367.10L245.70 61.50M541.87 367.10L236.27 61.50M532.44 367.10L226.84 61.50M523.01 367.10L217.41 61.50M513.58 367.10L207.98 61.50M504.15 367.10L198.55 61.50M494.72 367.10L189.12 61.50M485.29 367.10L179.69 61.50M475.86 367.10L170.26 61.50M466.43 367.10L160.83 61.50M457.00 367.10L151.40 61.50M447.57 367.10L141.97 61.50M438.14 367.10L132.54 61.50" stroke="#008000" stroke-width="1.15" fill="none"/>
<rect x="436.50" y="81.50" width="15.00" height="265.60" fill="none" stroke="#008000" stroke-width="1.5"/>
<path d="M444.00 64.30V98.70M440.00 64.30H448.00M440.00 98.70H448.00" stroke="#008000" stroke-width="1.5" fill="none"/>
<path clip-path="url(#c20)" d="M474.29 367.10L772.39 69.00M464.86 367.10L762.96 69.00M455.43 367.10L753.53 69.00M446.00 367.10L744.10 69.00M436.57 367.10L734.67 69.00M427.14 367.10L725.24 69.00M417.71 367.10L715.81 69.00M408.28 367.10L706.38 69.00M398.85 367.10L696.95 69.00M389.42 367.10L687.52 69.00M379.99 367.10L678.09 69.00M370.56 367.10L668.66 69.00M361.13 367.10L659.23 69.00M351.70 367.10L649.80 69.00M342.27 367.10L640.37 69.00M332.84 367.10L630.94 69.00M323.41 367.10L621.51 69.00M313.98 367.10L612.08 69.00M304.55 367.10L602.65 69.00M295.12 367.10L593.22 69.00M285.69 367.10L583.79 69.00M276.26 367.10L574.36 69.00M266.83 367.10L564.93 69.00M257.40 367.10L555.50 69.00M247.97 367.10L546.07 69.00M238.54 367.10L536.64 69.00M229.11 367.10L527.21 69.00M219.68 367.10L517.78 69.00M210.25 367.10L508.35 69.00M200.82 367.10L498.92 69.00M191.39 367.10L489.49 69.00M181.96 367.10L480.06 69.00M172.53 367.10L470.63 69.00" stroke="#000000" stroke-width="1.15" fill="none"/>
<rect x="466.50" y="89.00" width="15.00" height="258.10" fill="none" stroke="#000000" stroke-width="1.5"/>
<path d="M474.00 75.90V102.10M470.00 75.90H478.00M470.00 102.10H478.00" stroke="#000000" stroke-width="1.5" fill="none"/>
<path clip-path="url(#c21)" d="M481.50 341.50H496.50M481.50 334.70H496.50M481.50 327.90H496.50M481.50 321.10H496.50M481.50 314.30H496.50M481.50 307.50H496.50M481.50 300.70H496.50M481.50 293.90H496.50M481.50 287.10H496.50M481.50 280.30H496.50M481.50 273.50H496.50M481.50 266.70H496.50M481.50 259.90H496.50M481.50 253.10H496.50M481.50 246.30H496.50M481.50 239.50H496.50M481.50 232.70H496.50M481.50 225.90H496.50M481.50 219.10H496.50M481.50 212.30H496.50M481.50 205.50H496.50M481.50 198.70H496.50M481.50 191.90H496.50M481.50 185.10H496.50M481.50 178.30H496.50M481.50 171.50H496.50M481.50 164.70H496.50M481.50 157.90H496.50M481.50 151.10H496.50M481.50 144.30H496.50M481.50 137.50H496.50M481.50 130.70H496.50M481.50 123.90H496.50M481.50 117.10H496.50M481.50 110.30H496.50M481.50 103.50H496.50M481.50 96.70H496.50" stroke="#ff0000" stroke-width="1.15" fill="none"/>
<rect x="481.50" y="92.60" width="15.00" height="254.50" fill="none" stroke="#ff0000" stroke-width="1.5"/>
<path d="M489.00 79.70V105.50M485.00 79.70H493.00M485.00 105.50H493.00" stroke="#ff0000" stroke-width="1.5" fill="none"/>
<path clip-path="url(#c22)" d="M790.47 367.10L507.57 84.20M781.04 367.10L498.14 84.20M771.61 367.10L488.71 84.20M762.18 367.10L479.28 84.20M752.75 367.10L469.85 84.20M743.32 367.10L460.42 84.20M733.89 367.10L450.99 84.20M724.46 367.10L441.56 84.20M715.03 367.10L432.13 84.20M705.60 367.10L422.70 84.20M696.17 367.10L413.27 84.20M686.74 367.10L403.84 84.20M677.31 367.10L394.41 84.20M667.88 367.10L384.98 84.20M658.45 367.10L375.55 84.20M649.02 367.10L366.12 84.20M639.59 367.10L356.69 84.20M630.16 367.10L347.26 84.20M620.73 367.10L337.83 84.20M611.30 367.10L328.40 84.20M601.87 367.10L318.97 84.20M592.44 367.10L309.54 84.20M583.01 367.10L300.11 84.20M573.58 367.10L290.68 84.20M564.15 367.10L281.25 84.20M554.72 367.10L271.82 84.20M545.29 367.10L262.39 84.20M535.86 367.10L252.96 84.20M526.43 367.10L243.53 84.20M517.00 367.10L234.10 84.20M507.57 367.10L224.67 84.20M498.14 367.10L215.24 84.20" stroke="#8000ff" stroke-width="1.15" fill="none"/>
<rect x="496.50" y="104.20" width="15.00" height="242.90" fill="none" stroke="#8000ff" stroke-width="1.5"/>
<path d="M504.00 85.50V122.90M500.00 85.50H508.00M500.00 122.90H508.00" stroke="#8000ff" stroke-width="1.5" fill="none"/>
<path clip-path="url(#c23)" d="M519.29 367.10L793.49 92.90M509.86 367.10L784.06 92.90M500.43 367.10L774.63 92.90M491.00 367.10L765.20 92.90M481.57 367.10L755.77 92.90M472.14 367.10L746.34 92.90M462.71 367.10L736.91 92.90M453.28 367.10L727.48 92.90M443.85 367.10L718.05 92.90M434.42 367.10L708.62 92.90M424.99 367.10L699.19 92.90M415.56 367.10L689.76 92.90M406.13 367.10L680.33 92.90M396.70 367.10L670.90 92.90M387.27 367.10L661.47 92.90M377.84 367.10L652.04 92.90M368.41 367.10L642.61 92.90M358.98 367.10L633.18 92.90M349.55 367.10L623.75 92.90M340.12 367.10L614.32 92.90M330.69 367.10L604.89 92.90M321.26 367.10L595.46 92.90M311.83 367.10L586.03 92.90M302.40 367.10L576.60 92.90M292.97 367.10L567.17 92.90M283.54 367.10L557.74 92.90M274.11 367.10L548.31 92.90M264.68 367.10L538.88 92.90M255.25 367.10L529.45 92.90M245.82 367.10L520.02 92.90M236.39 367.10L510.59 92.90M796.04 367.10L521.84 92.90M786.61 367.10L512.41 92.90M777.18 367.10L502.98 92.90M767.75 367.10L493.55 92.90M758.32 367.10L484.12 92.90M748.89 367.10L474.69 92.90M739.46 367.10L465.26 92.90M730.03 367.10L455.83 92.90M720.60 367.10L446.40 92.90M711.17 367.10L436.97 92.90M701.74 367.10L427.54 92.90M692.31 367.10L418.11 92.90M682.88 367.10L408.68 92.90M673.45 367.10L399.25 92.90M664.02 367.10L389.82 92.90M654.59 367.10L380.39 92.90M645.16 367.10L370.96 92.90M635.73 367.10L361.53 92.90M626.30 367.10L352.10 92.90M616.87 367.10L342.67 92.90M607.44 367.10L333.24 92.90M598.01 367.10L323.81 92.90M588.58 367.10L314.38 92.90M579.15 367.10L304.95 92.90M569.72 367.10L295.52 92.90M560.29 367.10L286.09 92.90M550.86 367.10L276.66 92.90M541.43 367.10L267.23 92.90M532.00 367.10L257.80 92.90M522.57 367.10L248.37 92.90M513.14 367.10L238.94 92.90" stroke="#008000" stroke-width="1.15" fill="none"/>
<rect x="511.50" y="112.90" width="15.00" height="234.20" fill="none" stroke="#008000" stroke-width="1.5"/>
<path d="M519.00 99.60V126.20M515.00 99.60H523.00M515.00 126.20H523.00" stroke="#008000" stroke-width="1.5" fill="none"/>
<rect x="84.2" y="15.2" width="450.40" height="331.90" fill="none" stroke="#000" stroke-width="2"/>
<text transform="translate(72.4,354.75) scale(1,1.09)" font-size="21.7" text-anchor="end">0</text>
<text transform="translate(72.4,299.43) scale(1,1.09)" font-size="21.7" text-anchor="end">10</text>
<text transform="translate(72.4,244.12) scale(1,1.09)" font-size="21.7" text-anchor="end">20</text>
<text transform="translate(72.4,188.80) scale(1,1.09)" font-size="21.7" text-anchor="end">30</text>
<text transform="translate(72.4,133.48) scale(1,1.09)" font-size="21.7" text-anchor="end">40</text>
<text transform="translate(72.4,78.17) scale(1,1.09)" font-size="21.7" text-anchor="end">50</text>
<text transform="translate(72.4,22.85) scale(1,1.09)" font-size="21.7" text-anchor="end">60</text>
<text class="s" transform="translate(112.00,373.80) scale(1,1.05)" font-size="20">K<tspan font-size="12.5" dx="0.2" dy="-11.1">+</tspan></text>
<text class="s" transform="translate(181.60,373.80) scale(1,1.05)" font-size="20">Ca<tspan font-size="12.5" dx="0.2" dy="-11.1">2+</tspan></text>
<text class="s" transform="translate(256.20,373.80) scale(1,1.05)" font-size="20">Mg<tspan font-size="12.5" dx="0.2" dy="-11.1">2+</tspan></text>
<text class="s" transform="translate(335.80,373.80) scale(1,1.05)" font-size="20">Zn<tspan font-size="12.5" dx="0.2" dy="-11.1">2+</tspan></text>
<text class="s" transform="translate(411.40,373.80) scale(1,1.05)" font-size="20">Ni<tspan font-size="12.5" dx="0.2" dy="-11.1">2+</tspan></text>
<text class="s" transform="translate(487.40,373.80) scale(1,1.05)" font-size="20">Cd<tspan font-size="12.5" dx="0.2" dy="-11.1">2+</tspan></text>
<path d="M76.70 347.10H84.20M76.70 291.78H84.20M76.70 236.47H84.20M76.70 181.15H84.20M76.70 125.83H84.20M76.70 70.52H84.20M76.70 15.20H84.20M121.50 347.10V354.40M196.50 347.10V354.40M271.50 347.10V354.40M346.50 347.10V354.40M421.50 347.10V354.40M496.50 347.10V354.40" stroke="#000" stroke-width="2" fill="none"/>
<text class="s" transform="translate(309.3,396.50) scale(1,1.07)" font-size="26.4" text-anchor="middle">Cation</text>
<text class="s" transform="translate(34.5,185.0) rotate(-90)" font-size="27.1" text-anchor="middle">Tl(I) adsorbed (mg/g)</text>
<text class="s" x="84.8" y="47.9" font-size="36">(a)</text>
<path clip-path="url(#c24)" d="M172.58 63.30L227.98 7.90M163.15 63.30L218.55 7.90M153.72 63.30L209.12 7.90M144.29 63.30L199.69 7.90M134.86 63.30L190.26 7.90M125.43 63.30L180.83 7.90M116.00 63.30L171.40 7.90M106.57 63.30L161.97 7.90M97.14 63.30L152.54 7.90M87.71 63.30L143.11 7.90M78.28 63.30L133.68 7.90" stroke="#000000" stroke-width="1.15" fill="none"/>
<rect x="131.80" y="27.90" width="40.50" height="15.40" fill="none" stroke="#000000" stroke-width="1.3"/>
<text class="s" x="177.80" y="41.80" font-size="18">0 mM</text>
<path clip-path="url(#c25)" d="M226.40 34.80H266.90M226.40 41.60H266.90" stroke="#ff0000" stroke-width="1.15" fill="none"/>
<rect x="226.40" y="27.90" width="40.50" height="15.40" fill="none" stroke="#ff0000" stroke-width="1.3"/>
<text class="s" x="272.40" y="41.80" font-size="18">0.1 mM</text>
<path clip-path="url(#c26)" d="M426.71 63.30L371.31 7.90M417.28 63.30L361.88 7.90M407.85 63.30L352.45 7.90M398.42 63.30L343.02 7.90M388.99 63.30L333.59 7.90M379.56 63.30L324.16 7.90M370.13 63.30L314.73 7.90M360.70 63.30L305.30 7.90M351.27 63.30L295.87 7.90M341.84 63.30L286.44 7.90" stroke="#8000ff" stroke-width="1.15" fill="none"/>
<rect x="335.50" y="27.90" width="40.50" height="15.40" fill="none" stroke="#8000ff" stroke-width="1.3"/>
<text class="s" x="381.50" y="41.80" font-size="18">1 mM</text>
<path clip-path="url(#c27)" d="M471.58 63.30L526.98 7.90M462.15 63.30L517.55 7.90M452.72 63.30L508.12 7.90M443.29 63.30L498.69 7.90M433.86 63.30L489.26 7.90M424.43 63.30L479.83 7.90M415.00 63.30L470.40 7.90M405.57 63.30L460.97 7.90M396.14 63.30L451.54 7.90M386.71 63.30L442.11 7.90M377.28 63.30L432.68 7.90M522.01 63.30L466.61 7.90M512.58 63.30L457.18 7.90M503.15 63.30L447.75 7.90M493.72 63.30L438.32 7.90M484.29 63.30L428.89 7.90M474.86 63.30L419.46 7.90M465.43 63.30L410.03 7.90M456.00 63.30L400.60 7.90M446.57 63.30L391.17 7.90M437.14 63.30L381.74 7.90" stroke="#008000" stroke-width="1.15" fill="none"/>
<rect x="430.80" y="27.90" width="40.50" height="15.40" fill="none" stroke="#008000" stroke-width="1.3"/>
<text class="s" x="476.80" y="41.80" font-size="18">10 mM</text>
<path clip-path="url(#c28)" d="M99.29 777.50L355.29 521.50M89.86 777.50L345.86 521.50M80.43 777.50L336.43 521.50M71.00 777.50L327.00 521.50M61.57 777.50L317.57 521.50M52.14 777.50L308.14 521.50M42.71 777.50L298.71 521.50M33.28 777.50L289.28 521.50M23.85 777.50L279.85 521.50M14.42 777.50L270.42 521.50M4.99 777.50L260.99 521.50M-4.44 777.50L251.56 521.50M-13.87 777.50L242.13 521.50M-23.30 777.50L232.70 521.50M-32.73 777.50L223.27 521.50M-42.16 777.50L213.84 521.50M-51.59 777.50L204.41 521.50M-61.02 777.50L194.98 521.50M-70.45 777.50L185.55 521.50M-79.88 777.50L176.12 521.50M-89.31 777.50L166.69 521.50M-98.74 777.50L157.26 521.50M-108.17 777.50L147.83 521.50M-117.60 777.50L138.40 521.50M-127.03 777.50L128.97 521.50M-136.46 777.50L119.54 521.50M-145.89 777.50L110.11 521.50M-155.32 777.50L100.68 521.50M-164.75 777.50L91.25 521.50" stroke="#000000" stroke-width="1.15" fill="none"/>
<rect x="91.50" y="541.50" width="15.00" height="216.00" fill="none" stroke="#000000" stroke-width="1.5"/>
<path d="M99.00 520.80V562.20M95.00 520.80H103.00M95.00 562.20H103.00" stroke="#000000" stroke-width="1.5" fill="none"/>
<path clip-path="url(#c29)" d="M106.50 751.90H121.50M106.50 745.10H121.50M106.50 738.30H121.50M106.50 731.50H121.50M106.50 724.70H121.50M106.50 717.90H121.50M106.50 711.10H121.50M106.50 704.30H121.50M106.50 697.50H121.50M106.50 690.70H121.50M106.50 683.90H121.50M106.50 677.10H121.50M106.50 670.30H121.50M106.50 663.50H121.50M106.50 656.70H121.50M106.50 649.90H121.50M106.50 643.10H121.50M106.50 636.30H121.50M106.50 629.50H121.50M106.50 622.70H121.50M106.50 615.90H121.50M106.50 609.10H121.50M106.50 602.30H121.50M106.50 595.50H121.50M106.50 588.70H121.50M106.50 581.90H121.50M106.50 575.10H121.50M106.50 568.30H121.50M106.50 561.50H121.50M106.50 554.70H121.50M106.50 547.90H121.50" stroke="#ff0000" stroke-width="1.15" fill="none"/>
<rect x="106.50" y="542.10" width="15.00" height="215.40" fill="none" stroke="#ff0000" stroke-width="1.5"/>
<path d="M114.00 524.60V559.60M110.00 524.60H118.00M110.00 559.60H118.00" stroke="#ff0000" stroke-width="1.5" fill="none"/>
<path clip-path="url(#c30)" d="M396.61 777.50L135.21 516.10M387.18 777.50L125.78 516.10M377.75 777.50L116.35 516.10M368.32 777.50L106.92 516.10M358.89 777.50L97.49 516.10M349.46 777.50L88.06 516.10M340.03 777.50L78.63 516.10M330.60 777.50L69.20 516.10M321.17 777.50L59.77 516.10M311.74 777.50L50.34 516.10M302.31 777.50L40.91 516.10M292.88 777.50L31.48 516.10M283.45 777.50L22.05 516.10M274.02 777.50L12.62 516.10M264.59 777.50L3.19 516.10M255.16 777.50L-6.24 516.10M245.73 777.50L-15.67 516.10M236.30 777.50L-25.10 516.10M226.87 777.50L-34.53 516.10M217.44 777.50L-43.96 516.10M208.01 777.50L-53.39 516.10M198.58 777.50L-62.82 516.10M189.15 777.50L-72.25 516.10M179.72 777.50L-81.68 516.10M170.29 777.50L-91.11 516.10M160.86 777.50L-100.54 516.10M151.43 777.50L-109.97 516.10M142.00 777.50L-119.40 516.10M132.57 777.50L-128.83 516.10M123.14 777.50L-138.26 516.10" stroke="#8000ff" stroke-width="1.15" fill="none"/>
<rect x="121.50" y="536.10" width="15.00" height="221.40" fill="none" stroke="#8000ff" stroke-width="1.5"/>
<path d="M129.00 510.60V561.60M125.00 510.60H133.00M125.00 561.60H133.00" stroke="#8000ff" stroke-width="1.5" fill="none"/>
<path clip-path="url(#c31)" d="M144.29 777.50L407.29 514.50M134.86 777.50L397.86 514.50M125.43 777.50L388.43 514.50M116.00 777.50L379.00 514.50M106.57 777.50L369.57 514.50M97.14 777.50L360.14 514.50M87.71 777.50L350.71 514.50M78.28 777.50L341.28 514.50M68.85 777.50L331.85 514.50M59.42 777.50L322.42 514.50M49.99 777.50L312.99 514.50M40.56 777.50L303.56 514.50M31.13 777.50L294.13 514.50M21.70 777.50L284.70 514.50M12.27 777.50L275.27 514.50M2.84 777.50L265.84 514.50M-6.59 777.50L256.41 514.50M-16.02 777.50L246.98 514.50M-25.45 777.50L237.55 514.50M-34.88 777.50L228.12 514.50M-44.31 777.50L218.69 514.50M-53.74 777.50L209.26 514.50M-63.17 777.50L199.83 514.50M-72.60 777.50L190.40 514.50M-82.03 777.50L180.97 514.50M-91.46 777.50L171.54 514.50M-100.89 777.50L162.11 514.50M-110.32 777.50L152.68 514.50M-119.75 777.50L143.25 514.50M411.61 777.50L148.61 514.50M402.18 777.50L139.18 514.50M392.75 777.50L129.75 514.50M383.32 777.50L120.32 514.50M373.89 777.50L110.89 514.50M364.46 777.50L101.46 514.50M355.03 777.50L92.03 514.50M345.60 777.50L82.60 514.50M336.17 777.50L73.17 514.50M326.74 777.50L63.74 514.50M317.31 777.50L54.31 514.50M307.88 777.50L44.88 514.50M298.45 777.50L35.45 514.50M289.02 777.50L26.02 514.50M279.59 777.50L16.59 514.50M270.16 777.50L7.16 514.50M260.73 777.50L-2.27 514.50M251.30 777.50L-11.70 514.50M241.87 777.50L-21.13 514.50M232.44 777.50L-30.56 514.50M223.01 777.50L-39.99 514.50M213.58 777.50L-49.42 514.50M204.15 777.50L-58.85 514.50M194.72 777.50L-68.28 514.50M185.29 777.50L-77.71 514.50M175.86 777.50L-87.14 514.50M166.43 777.50L-96.57 514.50M157.00 777.50L-106.00 514.50M147.57 777.50L-115.43 514.50M138.14 777.50L-124.86 514.50" stroke="#008000" stroke-width="1.15" fill="none"/>
<rect x="136.50" y="534.50" width="15.00" height="223.00" fill="none" stroke="#008000" stroke-width="1.5"/>
<path d="M144.00 517.70V551.30M140.00 517.70H148.00M140.00 551.30H148.00" stroke="#008000" stroke-width="1.5" fill="none"/>
<path clip-path="url(#c32)" d="M174.29 777.50L430.29 521.50M164.86 777.50L420.86 521.50M155.43 777.50L411.43 521.50M146.00 777.50L402.00 521.50M136.57 777.50L392.57 521.50M127.14 777.50L383.14 521.50M117.71 777.50L373.71 521.50M108.28 777.50L364.28 521.50M98.85 777.50L354.85 521.50M89.42 777.50L345.42 521.50M79.99 777.50L335.99 521.50M70.56 777.50L326.56 521.50M61.13 777.50L317.13 521.50M51.70 777.50L307.70 521.50M42.27 777.50L298.27 521.50M32.84 777.50L288.84 521.50M23.41 777.50L279.41 521.50M13.98 777.50L269.98 521.50M4.55 777.50L260.55 521.50M-4.88 777.50L251.12 521.50M-14.31 777.50L241.69 521.50M-23.74 777.50L232.26 521.50M-33.17 777.50L222.83 521.50M-42.60 777.50L213.40 521.50M-52.03 777.50L203.97 521.50M-61.46 777.50L194.54 521.50M-70.89 777.50L185.11 521.50M-80.32 777.50L175.68 521.50M-89.75 777.50L166.25 521.50" stroke="#000000" stroke-width="1.15" fill="none"/>
<rect x="166.50" y="541.50" width="15.00" height="216.00" fill="none" stroke="#000000" stroke-width="1.5"/>
<path d="M174.00 520.80V562.20M170.00 520.80H178.00M170.00 562.20H178.00" stroke="#000000" stroke-width="1.5" fill="none"/>
<path clip-path="url(#c33)" d="M181.50 751.90H196.50M181.50 745.10H196.50M181.50 738.30H196.50M181.50 731.50H196.50M181.50 724.70H196.50M181.50 717.90H196.50M181.50 711.10H196.50M181.50 704.30H196.50M181.50 697.50H196.50M181.50 690.70H196.50M181.50 683.90H196.50M181.50 677.10H196.50M181.50 670.30H196.50M181.50 663.50H196.50M181.50 656.70H196.50M181.50 649.90H196.50M181.50 643.10H196.50M181.50 636.30H196.50M181.50 629.50H196.50M181.50 622.70H196.50M181.50 615.90H196.50M181.50 609.10H196.50M181.50 602.30H196.50M181.50 595.50H196.50M181.50 588.70H196.50M181.50 581.90H196.50M181.50 575.10H196.50M181.50 568.30H196.50M181.50 561.50H196.50M181.50 554.70H196.50M181.50 547.90H196.50M181.50 541.10H196.50" stroke="#ff0000" stroke-width="1.15" fill="none"/>
<rect x="181.50" y="536.80" width="15.00" height="220.70" fill="none" stroke="#ff0000" stroke-width="1.5"/>
<path d="M189.00 509.70V563.90M185.00 509.70H193.00M185.00 563.90H193.00" stroke="#ff0000" stroke-width="1.5" fill="none"/>
<path clip-path="url(#c34)" d="M481.04 777.50L211.54 508.00M471.61 777.50L202.11 508.00M462.18 777.50L192.68 508.00M452.75 777.50L183.25 508.00M443.32 777.50L173.82 508.00M433.89 777.50L164.39 508.00M424.46 777.50L154.96 508.00M415.03 777.50L145.53 508.00M405.60 777.50L136.10 508.00M396.17 777.50L126.67 508.00M386.74 777.50L117.24 508.00M377.31 777.50L107.81 508.00M367.88 777.50L98.38 508.00M358.45 777.50L88.95 508.00M349.02 777.50L79.52 508.00M339.59 777.50L70.09 508.00M330.16 777.50L60.66 508.00M320.73 777.50L51.23 508.00M311.30 777.50L41.80 508.00M301.87 777.50L32.37 508.00M292.44 777.50L22.94 508.00M283.01 777.50L13.51 508.00M273.58 777.50L4.08 508.00M264.15 777.50L-5.35 508.00M254.72 777.50L-14.78 508.00M245.29 777.50L-24.21 508.00M235.86 777.50L-33.64 508.00M226.43 777.50L-43.07 508.00M217.00 777.50L-52.50 508.00M207.57 777.50L-61.93 508.00M198.14 777.50L-71.36 508.00" stroke="#8000ff" stroke-width="1.15" fill="none"/>
<rect x="196.50" y="528.00" width="15.00" height="229.50" fill="none" stroke="#8000ff" stroke-width="1.5"/>
<path d="M204.00 514.00V542.00M200.00 514.00H208.00M200.00 542.00H208.00" stroke="#8000ff" stroke-width="1.5" fill="none"/>
<path clip-path="url(#c35)" d="M219.29 777.50L479.69 517.10M209.86 777.50L470.26 517.10M200.43 777.50L460.83 517.10M191.00 777.50L451.40 517.10M181.57 777.50L441.97 517.10M172.14 777.50L432.54 517.10M162.71 777.50L423.11 517.10M153.28 777.50L413.68 517.10M143.85 777.50L404.25 517.10M134.42 777.50L394.82 517.10M124.99 777.50L385.39 517.10M115.56 777.50L375.96 517.10M106.13 777.50L366.53 517.10M96.70 777.50L357.10 517.10M87.27 777.50L347.67 517.10M77.84 777.50L338.24 517.10M68.41 777.50L328.81 517.10M58.98 777.50L319.38 517.10M49.55 777.50L309.95 517.10M40.12 777.50L300.52 517.10M30.69 777.50L291.09 517.10M21.26 777.50L281.66 517.10M11.83 777.50L272.23 517.10M2.40 777.50L262.80 517.10M-7.03 777.50L253.37 517.10M-16.46 777.50L243.94 517.10M-25.89 777.50L234.51 517.10M-35.32 777.50L225.08 517.10M-44.75 777.50L215.65 517.10M486.61 777.50L226.21 517.10M477.18 777.50L216.78 517.10M467.75 777.50L207.35 517.10M458.32 777.50L197.92 517.10M448.89 777.50L188.49 517.10M439.46 777.50L179.06 517.10M430.03 777.50L169.63 517.10M420.60 777.50L160.20 517.10M411.17 777.50L150.77 517.10M401.74 777.50L141.34 517.10M392.31 777.50L131.91 517.10M382.88 777.50L122.48 517.10M373.45 777.50L113.05 517.10M364.02 777.50L103.62 517.10M354.59 777.50L94.19 517.10M345.16 777.50L84.76 517.10M335.73 777.50L75.33 517.10M326.30 777.50L65.90 517.10M316.87 777.50L56.47 517.10M307.44 777.50L47.04 517.10M298.01 777.50L37.61 517.10M288.58 777.50L28.18 517.10M279.15 777.50L18.75 517.10M269.72 777.50L9.32 517.10M260.29 777.50L-0.11 517.10M250.86 777.50L-9.54 517.10M241.43 777.50L-18.97 517.10M232.00 777.50L-28.40 517.10M222.57 777.50L-37.83 517.10M213.14 777.50L-47.26 517.10" stroke="#008000" stroke-width="1.15" fill="none"/>
<rect x="211.50" y="537.10" width="15.00" height="220.40" fill="none" stroke="#008000" stroke-width="1.5"/>
<path d="M219.00 528.30V545.90M215.00 528.30H223.00M215.00 545.90H223.00" stroke="#008000" stroke-width="1.5" fill="none"/>
<path clip-path="url(#c36)" d="M249.29 777.50L505.29 521.50M239.86 777.50L495.86 521.50M230.43 777.50L486.43 521.50M221.00 777.50L477.00 521.50M211.57 777.50L467.57 521.50M202.14 777.50L458.14 521.50M192.71 777.50L448.71 521.50M183.28 777.50L439.28 521.50M173.85 777.50L429.85 521.50M164.42 777.50L420.42 521.50M154.99 777.50L410.99 521.50M145.56 777.50L401.56 521.50M136.13 777.50L392.13 521.50M126.70 777.50L382.70 521.50M117.27 777.50L373.27 521.50M107.84 777.50L363.84 521.50M98.41 777.50L354.41 521.50M88.98 777.50L344.98 521.50M79.55 777.50L335.55 521.50M70.12 777.50L326.12 521.50M60.69 777.50L316.69 521.50M51.26 777.50L307.26 521.50M41.83 777.50L297.83 521.50M32.40 777.50L288.40 521.50M22.97 777.50L278.97 521.50M13.54 777.50L269.54 521.50M4.11 777.50L260.11 521.50M-5.32 777.50L250.68 521.50M-14.75 777.50L241.25 521.50" stroke="#000000" stroke-width="1.15" fill="none"/>
<rect x="241.50" y="541.50" width="15.00" height="216.00" fill="none" stroke="#000000" stroke-width="1.5"/>
<path d="M249.00 520.80V562.20M245.00 520.80H253.00M245.00 562.20H253.00" stroke="#000000" stroke-width="1.5" fill="none"/>
<path clip-path="url(#c37)" d="M256.50 751.90H271.50M256.50 745.10H271.50M256.50 738.30H271.50M256.50 731.50H271.50M256.50 724.70H271.50M256.50 717.90H271.50M256.50 711.10H271.50M256.50 704.30H271.50M256.50 697.50H271.50M256.50 690.70H271.50M256.50 683.90H271.50M256.50 677.10H271.50M256.50 670.30H271.50M256.50 663.50H271.50M256.50 656.70H271.50M256.50 649.90H271.50M256.50 643.10H271.50M256.50 636.30H271.50M256.50 629.50H271.50M256.50 622.70H271.50M256.50 615.90H271.50M256.50 609.10H271.50M256.50 602.30H271.50M256.50 595.50H271.50M256.50 588.70H271.50M256.50 581.90H271.50M256.50 575.10H271.50M256.50 568.30H271.50M256.50 561.50H271.50M256.50 554.70H271.50" stroke="#ff0000" stroke-width="1.15" fill="none"/>
<rect x="256.50" y="554.60" width="15.00" height="202.90" fill="none" stroke="#ff0000" stroke-width="1.5"/>
<path d="M264.00 539.90V569.30M260.00 539.90H268.00M260.00 569.30H268.00" stroke="#ff0000" stroke-width="1.5" fill="none"/>
<path clip-path="url(#c38)" d="M565.47 777.50L280.57 492.60M556.04 777.50L271.14 492.60M546.61 777.50L261.71 492.60M537.18 777.50L252.28 492.60M527.75 777.50L242.85 492.60M518.32 777.50L233.42 492.60M508.89 777.50L223.99 492.60M499.46 777.50L214.56 492.60M490.03 777.50L205.13 492.60M480.60 777.50L195.70 492.60M471.17 777.50L186.27 492.60M461.74 777.50L176.84 492.60M452.31 777.50L167.41 492.60M442.88 777.50L157.98 492.60M433.45 777.50L148.55 492.60M424.02 777.50L139.12 492.60M414.59 777.50L129.69 492.60M405.16 777.50L120.26 492.60M395.73 777.50L110.83 492.60M386.30 777.50L101.40 492.60M376.87 777.50L91.97 492.60M367.44 777.50L82.54 492.60M358.01 777.50L73.11 492.60M348.58 777.50L63.68 492.60M339.15 777.50L54.25 492.60M329.72 777.50L44.82 492.60M320.29 777.50L35.39 492.60M310.86 777.50L25.96 492.60M301.43 777.50L16.53 492.60M292.00 777.50L7.10 492.60M282.57 777.50L-2.33 492.60M273.14 777.50L-11.76 492.60" stroke="#8000ff" stroke-width="1.15" fill="none"/>
<rect x="271.50" y="512.60" width="15.00" height="244.90" fill="none" stroke="#8000ff" stroke-width="1.5"/>
<path d="M279.00 488.70V536.50M275.00 488.70H283.00M275.00 536.50H283.00" stroke="#8000ff" stroke-width="1.5" fill="none"/>
<path clip-path="url(#c39)" d="M294.29 777.50L574.39 497.40M284.86 777.50L564.96 497.40M275.43 777.50L555.53 497.40M266.00 777.50L546.10 497.40M256.57 777.50L536.67 497.40M247.14 777.50L527.24 497.40M237.71 777.50L517.81 497.40M228.28 777.50L508.38 497.40M218.85 777.50L498.95 497.40M209.42 777.50L489.52 497.40M199.99 777.50L480.09 497.40M190.56 777.50L470.66 497.40M181.13 777.50L461.23 497.40M171.70 777.50L451.80 497.40M162.27 777.50L442.37 497.40M152.84 777.50L432.94 497.40M143.41 777.50L423.51 497.40M133.98 777.50L414.08 497.40M124.55 777.50L404.65 497.40M115.12 777.50L395.22 497.40M105.69 777.50L385.79 497.40M96.26 777.50L376.36 497.40M86.83 777.50L366.93 497.40M77.40 777.50L357.50 497.40M67.97 777.50L348.07 497.40M58.54 777.50L338.64 497.40M49.11 777.50L329.21 497.40M39.68 777.50L319.78 497.40M30.25 777.50L310.35 497.40M20.82 777.50L300.92 497.40M11.39 777.50L291.49 497.40M580.47 777.50L300.37 497.40M571.04 777.50L290.94 497.40M561.61 777.50L281.51 497.40M552.18 777.50L272.08 497.40M542.75 777.50L262.65 497.40M533.32 777.50L253.22 497.40M523.89 777.50L243.79 497.40M514.46 777.50L234.36 497.40M505.03 777.50L224.93 497.40M495.60 777.50L215.50 497.40M486.17 777.50L206.07 497.40M476.74 777.50L196.64 497.40M467.31 777.50L187.21 497.40M457.88 777.50L177.78 497.40M448.45 777.50L168.35 497.40M439.02 777.50L158.92 497.40M429.59 777.50L149.49 497.40M420.16 777.50L140.06 497.40M410.73 777.50L130.63 497.40M401.30 777.50L121.20 497.40M391.87 777.50L111.77 497.40M382.44 777.50L102.34 497.40M373.01 777.50L92.91 497.40M363.58 777.50L83.48 497.40M354.15 777.50L74.05 497.40M344.72 777.50L64.62 497.40M335.29 777.50L55.19 497.40M325.86 777.50L45.76 497.40M316.43 777.50L36.33 497.40M307.00 777.50L26.90 497.40M297.57 777.50L17.47 497.40M288.14 777.50L8.04 497.40" stroke="#008000" stroke-width="1.15" fill="none"/>
<rect x="286.50" y="517.40" width="15.00" height="240.10" fill="none" stroke="#008000" stroke-width="1.5"/>
<path d="M294.00 499.90V534.90M290.00 499.90H298.00M290.00 534.90H298.00" stroke="#008000" stroke-width="1.5" fill="none"/>
<path clip-path="url(#c40)" d="M324.29 777.50L580.29 521.50M314.86 777.50L570.86 521.50M305.43 777.50L561.43 521.50M296.00 777.50L552.00 521.50M286.57 777.50L542.57 521.50M277.14 777.50L533.14 521.50M267.71 777.50L523.71 521.50M258.28 777.50L514.28 521.50M248.85 777.50L504.85 521.50M239.42 777.50L495.42 521.50M229.99 777.50L485.99 521.50M220.56 777.50L476.56 521.50M211.13 777.50L467.13 521.50M201.70 777.50L457.70 521.50M192.27 777.50L448.27 521.50M182.84 777.50L438.84 521.50M173.41 777.50L429.41 521.50M163.98 777.50L419.98 521.50M154.55 777.50L410.55 521.50M145.12 777.50L401.12 521.50M135.69 777.50L391.69 521.50M126.26 777.50L382.26 521.50M116.83 777.50L372.83 521.50M107.40 777.50L363.40 521.50M97.97 777.50L353.97 521.50M88.54 777.50L344.54 521.50M79.11 777.50L335.11 521.50M69.68 777.50L325.68 521.50M60.25 777.50L316.25 521.50" stroke="#000000" stroke-width="1.15" fill="none"/>
<rect x="316.50" y="541.50" width="15.00" height="216.00" fill="none" stroke="#000000" stroke-width="1.5"/>
<path d="M324.00 520.80V562.20M320.00 520.80H328.00M320.00 562.20H328.00" stroke="#000000" stroke-width="1.5" fill="none"/>
<path clip-path="url(#c41)" d="M331.50 751.90H346.50M331.50 745.10H346.50M331.50 738.30H346.50M331.50 731.50H346.50M331.50 724.70H346.50M331.50 717.90H346.50M331.50 711.10H346.50M331.50 704.30H346.50M331.50 697.50H346.50M331.50 690.70H346.50M331.50 683.90H346.50M331.50 677.10H346.50M331.50 670.30H346.50M331.50 663.50H346.50M331.50 656.70H346.50M331.50 649.90H346.50M331.50 643.10H346.50M331.50 636.30H346.50M331.50 629.50H346.50M331.50 622.70H346.50M331.50 615.90H346.50M331.50 609.10H346.50M331.50 602.30H346.50M331.50 595.50H346.50M331.50 588.70H346.50M331.50 581.90H346.50M331.50 575.10H346.50M331.50 568.30H346.50M331.50 561.50H346.50M331.50 554.70H346.50M331.50 547.90H346.50M331.50 541.10H346.50M331.50 534.30H346.50" stroke="#ff0000" stroke-width="1.15" fill="none"/>
<rect x="331.50" y="530.50" width="15.00" height="227.00" fill="none" stroke="#ff0000" stroke-width="1.5"/>
<path d="M339.00 514.00V547.00M335.00 514.00H343.00M335.00 547.00H343.00" stroke="#ff0000" stroke-width="1.5" fill="none"/>
<path clip-path="url(#c42)" d="M612.18 777.50L356.08 521.40M602.75 777.50L346.65 521.40M593.32 777.50L337.22 521.40M583.89 777.50L327.79 521.40M574.46 777.50L318.36 521.40M565.03 777.50L308.93 521.40M555.60 777.50L299.50 521.40M546.17 777.50L290.07 521.40M536.74 777.50L280.64 521.40M527.31 777.50L271.21 521.40M517.88 777.50L261.78 521.40M508.45 777.50L252.35 521.40M499.02 777.50L242.92 521.40M489.59 777.50L233.49 521.40M480.16 777.50L224.06 521.40M470.73 777.50L214.63 521.40M461.30 777.50L205.20 521.40M451.87 777.50L195.77 521.40M442.44 777.50L186.34 521.40M433.01 777.50L176.91 521.40M423.58 777.50L167.48 521.40M414.15 777.50L158.05 521.40M404.72 777.50L148.62 521.40M395.29 777.50L139.19 521.40M385.86 777.50L129.76 521.40M376.43 777.50L120.33 521.40M367.00 777.50L110.90 521.40M357.57 777.50L101.47 521.40M348.14 777.50L92.04 521.40" stroke="#8000ff" stroke-width="1.15" fill="none"/>
<rect x="346.50" y="541.40" width="15.00" height="216.10" fill="none" stroke="#8000ff" stroke-width="1.5"/>
<path d="M354.00 517.50V565.30M350.00 517.50H358.00M350.00 565.30H358.00" stroke="#8000ff" stroke-width="1.5" fill="none"/>
<path clip-path="url(#c43)" d="M369.29 777.50L602.29 544.50M359.86 777.50L592.86 544.50M350.43 777.50L583.43 544.50M341.00 777.50L574.00 544.50M331.57 777.50L564.57 544.50M322.14 777.50L555.14 544.50M312.71 777.50L545.71 544.50M303.28 777.50L536.28 544.50M293.85 777.50L526.85 544.50M284.42 777.50L517.42 544.50M274.99 777.50L507.99 544.50M265.56 777.50L498.56 544.50M256.13 777.50L489.13 544.50M246.70 777.50L479.70 544.50M237.27 777.50L470.27 544.50M227.84 777.50L460.84 544.50M218.41 777.50L451.41 544.50M208.98 777.50L441.98 544.50M199.55 777.50L432.55 544.50M190.12 777.50L423.12 544.50M180.69 777.50L413.69 544.50M171.26 777.50L404.26 544.50M161.83 777.50L394.83 544.50M152.40 777.50L385.40 544.50M142.97 777.50L375.97 544.50M133.54 777.50L366.54 544.50M608.32 777.50L375.32 544.50M598.89 777.50L365.89 544.50M589.46 777.50L356.46 544.50M580.03 777.50L347.03 544.50M570.60 777.50L337.60 544.50M561.17 777.50L328.17 544.50M551.74 777.50L318.74 544.50M542.31 777.50L309.31 544.50M532.88 777.50L299.88 544.50M523.45 777.50L290.45 544.50M514.02 777.50L281.02 544.50M504.59 777.50L271.59 544.50M495.16 777.50L262.16 544.50M485.73 777.50L252.73 544.50M476.30 777.50L243.30 544.50M466.87 777.50L233.87 544.50M457.44 777.50L224.44 544.50M448.01 777.50L215.01 544.50M438.58 777.50L205.58 544.50M429.15 777.50L196.15 544.50M419.72 777.50L186.72 544.50M410.29 777.50L177.29 544.50M400.86 777.50L167.86 544.50M391.43 777.50L158.43 544.50M382.00 777.50L149.00 544.50M372.57 777.50L139.57 544.50M363.14 777.50L130.14 544.50" stroke="#008000" stroke-width="1.15" fill="none"/>
<rect x="361.50" y="564.50" width="15.00" height="193.00" fill="none" stroke="#008000" stroke-width="1.5"/>
<path d="M369.00 551.30V577.70M365.00 551.30H373.00M365.00 577.70H373.00" stroke="#008000" stroke-width="1.5" fill="none"/>
<path clip-path="url(#c44)" d="M399.29 777.50L655.29 521.50M389.86 777.50L645.86 521.50M380.43 777.50L636.43 521.50M371.00 777.50L627.00 521.50M361.57 777.50L617.57 521.50M352.14 777.50L608.14 521.50M342.71 777.50L598.71 521.50M333.28 777.50L589.28 521.50M323.85 777.50L579.85 521.50M314.42 777.50L570.42 521.50M304.99 777.50L560.99 521.50M295.56 777.50L551.56 521.50M286.13 777.50L542.13 521.50M276.70 777.50L532.70 521.50M267.27 777.50L523.27 521.50M257.84 777.50L513.84 521.50M248.41 777.50L504.41 521.50M238.98 777.50L494.98 521.50M229.55 777.50L485.55 521.50M220.12 777.50L476.12 521.50M210.69 777.50L466.69 521.50M201.26 777.50L457.26 521.50M191.83 777.50L447.83 521.50M182.40 777.50L438.40 521.50M172.97 777.50L428.97 521.50M163.54 777.50L419.54 521.50M154.11 777.50L410.11 521.50M144.68 777.50L400.68 521.50M135.25 777.50L391.25 521.50" stroke="#000000" stroke-width="1.15" fill="none"/>
<rect x="391.50" y="541.50" width="15.00" height="216.00" fill="none" stroke="#000000" stroke-width="1.5"/>
<path d="M399.00 520.80V562.20M395.00 520.80H403.00M395.00 562.20H403.00" stroke="#000000" stroke-width="1.5" fill="none"/>
<path clip-path="url(#c45)" d="M406.50 751.90H421.50M406.50 745.10H421.50M406.50 738.30H421.50M406.50 731.50H421.50M406.50 724.70H421.50M406.50 717.90H421.50M406.50 711.10H421.50M406.50 704.30H421.50M406.50 697.50H421.50M406.50 690.70H421.50M406.50 683.90H421.50M406.50 677.10H421.50M406.50 670.30H421.50M406.50 663.50H421.50M406.50 656.70H421.50M406.50 649.90H421.50M406.50 643.10H421.50M406.50 636.30H421.50M406.50 629.50H421.50M406.50 622.70H421.50M406.50 615.90H421.50M406.50 609.10H421.50M406.50 602.30H421.50M406.50 595.50H421.50M406.50 588.70H421.50M406.50 581.90H421.50M406.50 575.10H421.50M406.50 568.30H421.50M406.50 561.50H421.50M406.50 554.70H421.50M406.50 547.90H421.50M406.50 541.10H421.50M406.50 534.30H421.50" stroke="#ff0000" stroke-width="1.15" fill="none"/>
<rect x="406.50" y="529.20" width="15.00" height="228.30" fill="none" stroke="#ff0000" stroke-width="1.5"/>
<path d="M414.00 513.40V545.00M410.00 513.40H418.00M410.00 545.00H418.00" stroke="#ff0000" stroke-width="1.5" fill="none"/>
<path clip-path="url(#c46)" d="M706.04 777.50L429.04 500.50M696.61 777.50L419.61 500.50M687.18 777.50L410.18 500.50M677.75 777.50L400.75 500.50M668.32 777.50L391.32 500.50M658.89 777.50L381.89 500.50M649.46 777.50L372.46 500.50M640.03 777.50L363.03 500.50M630.60 777.50L353.60 500.50M621.17 777.50L344.17 500.50M611.74 777.50L334.74 500.50M602.31 777.50L325.31 500.50M592.88 777.50L315.88 500.50M583.45 777.50L306.45 500.50M574.02 777.50L297.02 500.50M564.59 777.50L287.59 500.50M555.16 777.50L278.16 500.50M545.73 777.50L268.73 500.50M536.30 777.50L259.30 500.50M526.87 777.50L249.87 500.50M517.44 777.50L240.44 500.50M508.01 777.50L231.01 500.50M498.58 777.50L221.58 500.50M489.15 777.50L212.15 500.50M479.72 777.50L202.72 500.50M470.29 777.50L193.29 500.50M460.86 777.50L183.86 500.50M451.43 777.50L174.43 500.50M442.00 777.50L165.00 500.50M432.57 777.50L155.57 500.50M423.14 777.50L146.14 500.50" stroke="#8000ff" stroke-width="1.15" fill="none"/>
<rect x="421.50" y="520.50" width="15.00" height="237.00" fill="none" stroke="#8000ff" stroke-width="1.5"/>
<path d="M429.00 502.50V538.50M425.00 502.50H433.00M425.00 538.50H433.00" stroke="#8000ff" stroke-width="1.5" fill="none"/>
<path clip-path="url(#c47)" d="M444.29 777.50L711.59 510.20M434.86 777.50L702.16 510.20M425.43 777.50L692.73 510.20M416.00 777.50L683.30 510.20M406.57 777.50L673.87 510.20M397.14 777.50L664.44 510.20M387.71 777.50L655.01 510.20M378.28 777.50L645.58 510.20M368.85 777.50L636.15 510.20M359.42 777.50L626.72 510.20M349.99 777.50L617.29 510.20M340.56 777.50L607.86 510.20M331.13 777.50L598.43 510.20M321.70 777.50L589.00 510.20M312.27 777.50L579.57 510.20M302.84 777.50L570.14 510.20M293.41 777.50L560.71 510.20M283.98 777.50L551.28 510.20M274.55 777.50L541.85 510.20M265.12 777.50L532.42 510.20M255.69 777.50L522.99 510.20M246.26 777.50L513.56 510.20M236.83 777.50L504.13 510.20M227.40 777.50L494.70 510.20M217.97 777.50L485.27 510.20M208.54 777.50L475.84 510.20M199.11 777.50L466.41 510.20M189.68 777.50L456.98 510.20M180.25 777.50L447.55 510.20M170.82 777.50L438.12 510.20M711.61 777.50L444.31 510.20M702.18 777.50L434.88 510.20M692.75 777.50L425.45 510.20M683.32 777.50L416.02 510.20M673.89 777.50L406.59 510.20M664.46 777.50L397.16 510.20M655.03 777.50L387.73 510.20M645.60 777.50L378.30 510.20M636.17 777.50L368.87 510.20M626.74 777.50L359.44 510.20M617.31 777.50L350.01 510.20M607.88 777.50L340.58 510.20M598.45 777.50L331.15 510.20M589.02 777.50L321.72 510.20M579.59 777.50L312.29 510.20M570.16 777.50L302.86 510.20M560.73 777.50L293.43 510.20M551.30 777.50L284.00 510.20M541.87 777.50L274.57 510.20M532.44 777.50L265.14 510.20M523.01 777.50L255.71 510.20M513.58 777.50L246.28 510.20M504.15 777.50L236.85 510.20M494.72 777.50L227.42 510.20M485.29 777.50L217.99 510.20M475.86 777.50L208.56 510.20M466.43 777.50L199.13 510.20M457.00 777.50L189.70 510.20M447.57 777.50L180.27 510.20M438.14 777.50L170.84 510.20" stroke="#008000" stroke-width="1.15" fill="none"/>
<rect x="436.50" y="530.20" width="15.00" height="227.30" fill="none" stroke="#008000" stroke-width="1.5"/>
<path d="M444.00 525.50V534.90M440.00 525.50H448.00M440.00 534.90H448.00" stroke="#008000" stroke-width="1.5" fill="none"/>
<path clip-path="url(#c48)" d="M474.29 777.50L730.29 521.50M464.86 777.50L720.86 521.50M455.43 777.50L711.43 521.50M446.00 777.50L702.00 521.50M436.57 777.50L692.57 521.50M427.14 777.50L683.14 521.50M417.71 777.50L673.71 521.50M408.28 777.50L664.28 521.50M398.85 777.50L654.85 521.50M389.42 777.50L645.42 521.50M379.99 777.50L635.99 521.50M370.56 777.50L626.56 521.50M361.13 777.50L617.13 521.50M351.70 777.50L607.70 521.50M342.27 777.50L598.27 521.50M332.84 777.50L588.84 521.50M323.41 777.50L579.41 521.50M313.98 777.50L569.98 521.50M304.55 777.50L560.55 521.50M295.12 777.50L551.12 521.50M285.69 777.50L541.69 521.50M276.26 777.50L532.26 521.50M266.83 777.50L522.83 521.50M257.40 777.50L513.40 521.50M247.97 777.50L503.97 521.50M238.54 777.50L494.54 521.50M229.11 777.50L485.11 521.50M219.68 777.50L475.68 521.50M210.25 777.50L466.25 521.50" stroke="#000000" stroke-width="1.15" fill="none"/>
<rect x="466.50" y="541.50" width="15.00" height="216.00" fill="none" stroke="#000000" stroke-width="1.5"/>
<path d="M474.00 520.80V562.20M470.00 520.80H478.00M470.00 562.20H478.00" stroke="#000000" stroke-width="1.5" fill="none"/>
<path clip-path="url(#c49)" d="M481.50 751.90H496.50M481.50 745.10H496.50M481.50 738.30H496.50M481.50 731.50H496.50M481.50 724.70H496.50M481.50 717.90H496.50M481.50 711.10H496.50M481.50 704.30H496.50M481.50 697.50H496.50M481.50 690.70H496.50M481.50 683.90H496.50M481.50 677.10H496.50M481.50 670.30H496.50M481.50 663.50H496.50M481.50 656.70H496.50M481.50 649.90H496.50M481.50 643.10H496.50M481.50 636.30H496.50M481.50 629.50H496.50M481.50 622.70H496.50M481.50 615.90H496.50M481.50 609.10H496.50M481.50 602.30H496.50M481.50 595.50H496.50M481.50 588.70H496.50M481.50 581.90H496.50M481.50 575.10H496.50M481.50 568.30H496.50M481.50 561.50H496.50" stroke="#ff0000" stroke-width="1.15" fill="none"/>
<rect x="481.50" y="561.40" width="15.00" height="196.10" fill="none" stroke="#ff0000" stroke-width="1.5"/>
<path d="M489.00 541.40V581.40M485.00 541.40H493.00M485.00 581.40H493.00" stroke="#ff0000" stroke-width="1.5" fill="none"/>
<path clip-path="url(#c50)" d="M724.46 777.50L508.76 561.80M715.03 777.50L499.33 561.80M705.60 777.50L489.90 561.80M696.17 777.50L480.47 561.80M686.74 777.50L471.04 561.80M677.31 777.50L461.61 561.80M667.88 777.50L452.18 561.80M658.45 777.50L442.75 561.80M649.02 777.50L433.32 561.80M639.59 777.50L423.89 561.80M630.16 777.50L414.46 561.80M620.73 777.50L405.03 561.80M611.30 777.50L395.60 561.80M601.87 777.50L386.17 561.80M592.44 777.50L376.74 561.80M583.01 777.50L367.31 561.80M573.58 777.50L357.88 561.80M564.15 777.50L348.45 561.80M554.72 777.50L339.02 561.80M545.29 777.50L329.59 561.80M535.86 777.50L320.16 561.80M526.43 777.50L310.73 561.80M517.00 777.50L301.30 561.80M507.57 777.50L291.87 561.80M498.14 777.50L282.44 561.80" stroke="#8000ff" stroke-width="1.15" fill="none"/>
<rect x="496.50" y="581.80" width="15.00" height="175.70" fill="none" stroke="#8000ff" stroke-width="1.5"/>
<path d="M504.00 574.00V589.60M500.00 574.00H508.00M500.00 589.60H508.00" stroke="#8000ff" stroke-width="1.5" fill="none"/>
<path clip-path="url(#c51)" d="M519.29 777.50L713.89 582.90M509.86 777.50L704.46 582.90M500.43 777.50L695.03 582.90M491.00 777.50L685.60 582.90M481.57 777.50L676.17 582.90M472.14 777.50L666.74 582.90M462.71 777.50L657.31 582.90M453.28 777.50L647.88 582.90M443.85 777.50L638.45 582.90M434.42 777.50L629.02 582.90M424.99 777.50L619.59 582.90M415.56 777.50L610.16 582.90M406.13 777.50L600.73 582.90M396.70 777.50L591.30 582.90M387.27 777.50L581.87 582.90M377.84 777.50L572.44 582.90M368.41 777.50L563.01 582.90M358.98 777.50L553.58 582.90M349.55 777.50L544.15 582.90M340.12 777.50L534.72 582.90M330.69 777.50L525.29 582.90M321.26 777.50L515.86 582.90M720.60 777.50L526.00 582.90M711.17 777.50L516.57 582.90M701.74 777.50L507.14 582.90M692.31 777.50L497.71 582.90M682.88 777.50L488.28 582.90M673.45 777.50L478.85 582.90M664.02 777.50L469.42 582.90M654.59 777.50L459.99 582.90M645.16 777.50L450.56 582.90M635.73 777.50L441.13 582.90M626.30 777.50L431.70 582.90M616.87 777.50L422.27 582.90M607.44 777.50L412.84 582.90M598.01 777.50L403.41 582.90M588.58 777.50L393.98 582.90M579.15 777.50L384.55 582.90M569.72 777.50L375.12 582.90M560.29 777.50L365.69 582.90M550.86 777.50L356.26 582.90M541.43 777.50L346.83 582.90M532.00 777.50L337.40 582.90M522.57 777.50L327.97 582.90M513.14 777.50L318.54 582.90" stroke="#008000" stroke-width="1.15" fill="none"/>
<rect x="511.50" y="602.90" width="15.00" height="154.60" fill="none" stroke="#008000" stroke-width="1.5"/>
<path d="M519.00 584.00V621.80M515.00 584.00H523.00M515.00 621.80H523.00" stroke="#008000" stroke-width="1.5" fill="none"/>
<rect x="84.2" y="425.1" width="450.40" height="332.40" fill="none" stroke="#000" stroke-width="2"/>
<text transform="translate(72.4,764.45) scale(1,1.09)" font-size="21.7" text-anchor="end">0</text>
<text transform="translate(72.4,709.05) scale(1,1.09)" font-size="21.7" text-anchor="end">10</text>
<text transform="translate(72.4,653.65) scale(1,1.09)" font-size="21.7" text-anchor="end">20</text>
<text transform="translate(72.4,598.25) scale(1,1.09)" font-size="21.7" text-anchor="end">30</text>
<text transform="translate(72.4,542.85) scale(1,1.09)" font-size="21.7" text-anchor="end">40</text>
<text transform="translate(72.4,487.45) scale(1,1.09)" font-size="21.7" text-anchor="end">50</text>
<text transform="translate(72.4,432.05) scale(1,1.09)" font-size="21.7" text-anchor="end">60</text>
<text class="s" transform="translate(112.00,782.70) scale(1,1.05)" font-size="20">K<tspan font-size="12.5" dx="0.2" dy="-11.1">+</tspan></text>
<text class="s" transform="translate(181.60,782.70) scale(1,1.05)" font-size="20">Ca<tspan font-size="12.5" dx="0.2" dy="-11.1">2+</tspan></text>
<text class="s" transform="translate(256.20,782.70) scale(1,1.05)" font-size="20">Mg<tspan font-size="12.5" dx="0.2" dy="-11.1">2+</tspan></text>
<text class="s" transform="translate(335.80,782.70) scale(1,1.05)" font-size="20">Zn<tspan font-size="12.5" dx="0.2" dy="-11.1">2+</tspan></text>
<text class="s" transform="translate(411.40,782.70) scale(1,1.05)" font-size="20">Ni<tspan font-size="12.5" dx="0.2" dy="-11.1">2+</tspan></text>
<text class="s" transform="translate(487.40,782.70) scale(1,1.05)" font-size="20">Cd<tspan font-size="12.5" dx="0.2" dy="-11.1">2+</tspan></text>
<path d="M76.70 757.50H84.20M76.70 702.10H84.20M76.70 646.70H84.20M76.70 591.30H84.20M76.70 535.90H84.20M76.70 480.50H84.20M76.70 425.10H84.20M121.50 757.50V764.80M196.50 757.50V764.80M271.50 757.50V764.80M346.50 757.50V764.80M421.50 757.50V764.80M496.50 757.50V764.80" stroke="#000" stroke-width="2" fill="none"/>
<text class="s" transform="translate(309.3,807.00) scale(1,1.07)" font-size="26.4" text-anchor="middle">Cation</text>
<text class="s" transform="translate(34.5,595.0) rotate(-90)" font-size="27.1" text-anchor="middle">Tl(I) adsorbed (mg/g)</text>
<text class="s" x="84.8" y="457.9" font-size="36">(b)</text>
<path clip-path="url(#c52)" d="M173.18 476.00L228.58 420.60M163.75 476.00L219.15 420.60M154.32 476.00L209.72 420.60M144.89 476.00L200.29 420.60M135.46 476.00L190.86 420.60M126.03 476.00L181.43 420.60M116.60 476.00L172.00 420.60M107.17 476.00L162.57 420.60M97.74 476.00L153.14 420.60M88.31 476.00L143.71 420.60M78.88 476.00L134.28 420.60" stroke="#000000" stroke-width="1.15" fill="none"/>
<rect x="132.40" y="440.60" width="40.50" height="15.40" fill="none" stroke="#000000" stroke-width="1.3"/>
<text class="s" x="178.40" y="453.90" font-size="18">0 mM</text>
<path clip-path="url(#c53)" d="M227.00 447.50H267.50M227.00 454.30H267.50" stroke="#ff0000" stroke-width="1.15" fill="none"/>
<rect x="227.00" y="440.60" width="40.50" height="15.40" fill="none" stroke="#ff0000" stroke-width="1.3"/>
<text class="s" x="273.00" y="453.90" font-size="18">0.1 mM</text>
<path clip-path="url(#c54)" d="M427.31 476.00L371.91 420.60M417.88 476.00L362.48 420.60M408.45 476.00L353.05 420.60M399.02 476.00L343.62 420.60M389.59 476.00L334.19 420.60M380.16 476.00L324.76 420.60M370.73 476.00L315.33 420.60M361.30 476.00L305.90 420.60M351.87 476.00L296.47 420.60M342.44 476.00L287.04 420.60" stroke="#8000ff" stroke-width="1.15" fill="none"/>
<rect x="336.10" y="440.60" width="40.50" height="15.40" fill="none" stroke="#8000ff" stroke-width="1.3"/>
<text class="s" x="382.10" y="453.90" font-size="18">1 mM</text>
<path clip-path="url(#c55)" d="M472.18 476.00L527.58 420.60M462.75 476.00L518.15 420.60M453.32 476.00L508.72 420.60M443.89 476.00L499.29 420.60M434.46 476.00L489.86 420.60M425.03 476.00L480.43 420.60M415.60 476.00L471.00 420.60M406.17 476.00L461.57 420.60M396.74 476.00L452.14 420.60M387.31 476.00L442.71 420.60M377.88 476.00L433.28 420.60M522.61 476.00L467.21 420.60M513.18 476.00L457.78 420.60M503.75 476.00L448.35 420.60M494.32 476.00L438.92 420.60M484.89 476.00L429.49 420.60M475.46 476.00L420.06 420.60M466.03 476.00L410.63 420.60M456.60 476.00L401.20 420.60M447.17 476.00L391.77 420.60M437.74 476.00L382.34 420.60" stroke="#008000" stroke-width="1.15" fill="none"/>
<rect x="431.40" y="440.60" width="40.50" height="15.40" fill="none" stroke="#008000" stroke-width="1.3"/>
<text class="s" x="477.40" y="453.90" font-size="18">10 mM</text>
</svg></body></html>
